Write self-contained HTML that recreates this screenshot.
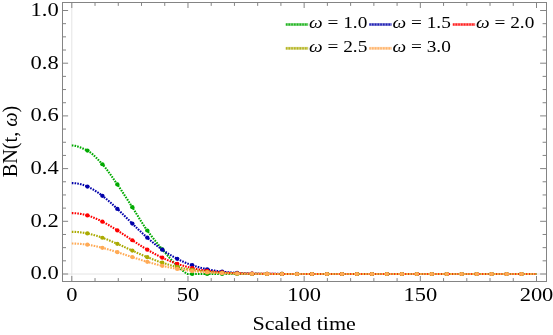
<!DOCTYPE html>
<html><head><meta charset="utf-8"><title>plot</title>
<style>html,body{margin:0;padding:0;background:#fff;}svg{display:block;will-change:transform;}</style>
</head><body>
<svg width="553" height="335" viewBox="0 0 553 335">
<rect width="553" height="335" fill="#fff"/>
<line x1="71.8" y1="2.5" x2="71.8" y2="281.5" stroke="#e4e4e4" stroke-width="1"/>
<line x1="62.5" y1="274.0" x2="546.5" y2="274.0" stroke="#e4e4e4" stroke-width="1"/>
<path d="M71.80,145.41 L72.38,145.44 L72.96,145.50 L73.54,145.56 L74.12,145.65 L74.70,145.75 L75.29,145.86 L75.87,145.99 L76.45,146.14 L77.03,146.30 L77.61,146.47 L78.19,146.65 L78.77,146.84 L79.35,147.04 L79.93,147.26 L80.51,147.48 L81.09,147.71 L81.67,147.95 L82.26,148.19 L82.84,148.44 L83.42,148.70 L84.00,148.96 L84.58,149.23 L85.16,149.49 L85.74,149.77 L86.32,150.04 L86.90,150.32 L87.48,150.61 L88.06,150.94 L88.65,151.29 L89.23,151.66 L89.81,152.06 L90.39,152.48 L90.97,152.93 L91.55,153.39 L92.13,153.88 L92.71,154.38 L93.29,154.90 L93.87,155.43 L94.45,155.98 L95.03,156.54 L95.62,157.12 L96.20,157.70 L96.78,158.29 L97.36,158.89 L97.94,159.50 L98.52,160.11 L99.10,160.73 L99.68,161.35 L100.26,161.98 L100.84,162.60 L101.42,163.22 L102.01,163.84 L102.59,164.48 L103.17,165.14 L103.75,165.81 L104.33,166.51 L104.91,167.22 L105.49,167.94 L106.07,168.68 L106.65,169.43 L107.23,170.19 L107.81,170.97 L108.40,171.75 L108.98,172.55 L109.56,173.35 L110.14,174.16 L110.72,174.98 L111.30,175.80 L111.88,176.63 L112.46,177.46 L113.04,178.29 L113.62,179.13 L114.20,179.96 L114.78,180.80 L115.37,181.63 L115.95,182.46 L116.53,183.29 L117.11,184.12 L117.69,184.95 L118.27,185.79 L118.85,186.63 L119.43,187.48 L120.01,188.34 L120.59,189.20 L121.17,190.07 L121.76,190.94 L122.34,191.81 L122.92,192.69 L123.50,193.57 L124.08,194.46 L124.66,195.35 L125.24,196.24 L125.82,197.13 L126.40,198.03 L126.98,198.92 L127.56,199.82 L128.14,200.72 L128.73,201.62 L129.31,202.52 L129.89,203.41 L130.47,204.31 L131.05,205.21 L131.63,206.10 L132.21,207.00 L132.79,207.90 L133.37,208.82 L133.95,209.74 L134.53,210.66 L135.12,211.60 L135.70,212.53 L136.28,213.47 L136.86,214.41 L137.44,215.35 L138.02,216.29 L138.60,217.23 L139.18,218.17 L139.76,219.11 L140.34,220.04 L140.92,220.97 L141.50,221.89 L142.09,222.80 L142.67,223.70 L143.25,224.60 L143.83,225.49 L144.41,226.36 L144.99,227.23 L145.57,228.08 L146.15,228.91 L146.73,229.73 L147.31,230.54 L147.89,231.34 L148.48,232.14 L149.06,232.92 L149.64,233.70 L150.22,234.47 L150.80,235.24 L151.38,235.99 L151.96,236.75 L152.54,237.49 L153.12,238.23 L153.70,238.97 L154.28,239.70 L154.87,240.42 L155.45,241.15 L156.03,241.86 L156.61,242.57 L157.19,243.28 L157.77,243.99 L158.35,244.69 L158.93,245.39 L159.51,246.08 L160.09,246.78 L160.67,247.47 L161.25,248.15 L161.84,248.84 L162.42,249.53 L163.00,250.21 L163.58,250.90 L164.16,251.59 L164.74,252.27 L165.32,252.95 L165.90,253.63 L166.48,254.31 L167.06,254.98 L167.64,255.65 L168.23,256.32 L168.81,256.98 L169.39,257.64 L169.97,258.29 L170.55,258.94 L171.13,259.57 L171.71,260.21 L172.29,260.83 L172.87,261.45 L173.45,262.06 L174.03,262.66 L174.61,263.25 L175.20,263.84 L175.78,264.41 L176.36,264.97 L176.94,265.52 L177.52,266.07 L178.10,266.61 L178.68,267.14 L179.26,267.66 L179.84,268.18 L180.42,268.69 L181.00,269.19 L181.59,269.69 L182.17,270.17 L182.75,270.66 L183.33,271.13 L183.91,271.60 L184.49,272.06 L185.07,272.51 L185.65,272.96 L186.23,273.40 L186.81,273.83 L187.39,274.00 L187.98,274.00 L188.56,274.00 L189.14,274.00 L189.72,274.00 L190.30,274.00 L190.88,274.00 L191.46,274.00 L192.04,274.00 L192.62,274.00 L193.20,274.00 L193.78,274.00 L194.36,274.00 L194.95,274.00 L195.53,274.00 L196.11,274.00 L196.69,274.00 L197.27,274.00 L197.85,274.00 L198.43,274.00 L199.01,274.00 L199.59,274.00 L200.17,274.00 L200.75,274.00 L201.34,274.00 L201.92,274.00 L202.50,274.00 L203.08,274.00 L203.66,274.00 L204.24,274.00 L204.82,274.00 L205.40,274.00 L205.98,274.00 L206.56,274.00 L207.14,274.00 L207.72,274.00 L208.31,274.00 L208.89,274.00 L209.47,274.00 L210.05,274.00 L210.63,274.00 L211.21,274.00 L211.79,274.00 L212.37,274.00 L212.95,274.00 L213.53,274.00 L214.11,274.00 L214.70,274.00 L215.28,274.00 L215.86,274.00 L216.44,274.00 L217.02,274.00 L217.60,274.00 L218.18,274.00 L218.76,274.00 L219.34,274.00 L219.92,274.00 L220.50,274.00 L221.08,274.00 L221.67,274.00 L222.25,274.00 L222.83,274.00 L223.41,274.00 L223.99,274.00 L224.57,274.00 L225.15,274.00 L225.73,274.00 L226.31,274.00 L226.89,274.00 L227.47,274.00 L228.06,274.00 L228.64,274.00 L229.22,274.00 L229.80,274.00 L230.38,274.00 L230.96,274.00 L231.54,274.00 L232.12,274.00 L232.70,274.00 L233.28,274.00 L233.86,274.00 L234.44,274.00 L235.03,274.00 L235.61,274.00 L236.19,274.00 L236.77,274.00 L237.35,274.00 L237.93,274.00 L238.51,274.00 L239.09,274.00 L239.67,274.00 L240.25,274.00 L240.83,274.00 L241.42,274.00 L242.00,274.00 L242.58,274.00 L243.16,274.00 L243.74,274.00 L244.32,274.00 L244.90,274.00 L245.48,274.00 L246.06,274.00 L246.64,274.00 L247.22,274.00 L247.81,274.00 L248.39,274.00 L248.97,274.00 L249.55,274.00 L250.13,274.00 L250.71,274.00 L251.29,274.00 L251.87,274.00 L252.45,274.00 L253.03,274.00 L253.61,274.00 L254.19,274.00 L254.78,274.00 L255.36,274.00 L255.94,274.00 L256.52,274.00 L257.10,274.00 L257.68,274.00 L258.26,274.00 L258.84,274.00 L259.42,274.00 L260.00,274.00 L260.58,274.00 L261.17,274.00 L261.75,274.00 L262.33,274.00 L262.91,274.00 L263.49,274.00 L264.07,274.00 L264.65,274.00 L265.23,274.00 L265.81,274.00 L266.39,274.00 L266.97,274.00 L267.55,274.00 L268.14,274.00 L268.72,274.00 L269.30,274.00 L269.88,274.00 L270.46,274.00 L271.04,274.00 L271.62,274.00 L272.20,274.00 L272.78,274.00 L273.36,274.00 L273.94,274.00 L274.53,274.00 L275.11,274.00 L275.69,274.00 L276.27,274.00 L276.85,274.00 L277.43,274.00 L278.01,274.00 L278.59,274.00 L279.17,274.00 L279.75,274.00 L280.33,274.00 L280.92,274.00 L281.50,274.00 L282.08,274.00 L282.66,274.00 L283.24,274.00 L283.82,274.00 L284.40,274.00 L284.98,274.00 L285.56,274.00 L286.14,274.00 L286.72,274.00 L287.30,274.00 L287.89,274.00 L288.47,274.00 L289.05,274.00 L289.63,274.00 L290.21,274.00 L290.79,274.00 L291.37,274.00 L291.95,274.00 L292.53,274.00 L293.11,274.00 L293.69,274.00 L294.28,274.00 L294.86,274.00 L295.44,274.00 L296.02,274.00 L296.60,274.00 L297.18,274.00 L297.76,274.00 L298.34,274.00 L298.92,274.00 L299.50,274.00 L300.08,274.00 L300.66,274.00 L301.25,274.00 L301.83,274.00 L302.41,274.00 L302.99,274.00 L303.57,274.00 L304.15,274.00 L304.73,274.00 L305.31,274.00 L305.89,274.00 L306.47,274.00 L307.05,274.00 L307.64,274.00 L308.22,274.00 L308.80,274.00 L309.38,274.00 L309.96,274.00 L310.54,274.00 L311.12,274.00 L311.70,274.00 L312.28,274.00 L312.86,274.00 L313.44,274.00 L314.02,274.00 L314.61,274.00 L315.19,274.00 L315.77,274.00 L316.35,274.00 L316.93,274.00 L317.51,274.00 L318.09,274.00 L318.67,274.00 L319.25,274.00 L319.83,274.00 L320.41,274.00 L321.00,274.00 L321.58,274.00 L322.16,274.00 L322.74,274.00 L323.32,274.00 L323.90,274.00 L324.48,274.00 L325.06,274.00 L325.64,274.00 L326.22,274.00 L326.80,274.00 L327.38,274.00 L327.97,274.00 L328.55,274.00 L329.13,274.00 L329.71,274.00 L330.29,274.00 L330.87,274.00 L331.45,274.00 L332.03,274.00 L332.61,274.00 L333.19,274.00 L333.77,274.00 L334.36,274.00 L334.94,274.00 L335.52,274.00 L336.10,274.00 L336.68,274.00 L337.26,274.00 L337.84,274.00 L338.42,274.00 L339.00,274.00 L339.58,274.00 L340.16,274.00 L340.75,274.00 L341.33,274.00 L341.91,274.00 L342.49,274.00 L343.07,274.00 L343.65,274.00 L344.23,274.00 L344.81,274.00 L345.39,274.00 L345.97,274.00 L346.55,274.00 L347.13,274.00 L347.72,274.00 L348.30,274.00 L348.88,274.00 L349.46,274.00 L350.04,274.00 L350.62,274.00 L351.20,274.00 L351.78,274.00 L352.36,274.00 L352.94,274.00 L353.52,274.00 L354.11,274.00 L354.69,274.00 L355.27,274.00 L355.85,274.00 L356.43,274.00 L357.01,274.00 L357.59,274.00 L358.17,274.00 L358.75,274.00 L359.33,274.00 L359.91,274.00 L360.49,274.00 L361.08,274.00 L361.66,274.00 L362.24,274.00 L362.82,274.00 L363.40,274.00 L363.98,274.00 L364.56,274.00 L365.14,274.00 L365.72,274.00 L366.30,274.00 L366.88,274.00 L367.47,274.00 L368.05,274.00 L368.63,274.00 L369.21,274.00 L369.79,274.00 L370.37,274.00 L370.95,274.00 L371.53,274.00 L372.11,274.00 L372.69,274.00 L373.27,274.00 L373.86,274.00 L374.44,274.00 L375.02,274.00 L375.60,274.00 L376.18,274.00 L376.76,274.00 L377.34,274.00 L377.92,274.00 L378.50,274.00 L379.08,274.00 L379.66,274.00 L380.24,274.00 L380.83,274.00 L381.41,274.00 L381.99,274.00 L382.57,274.00 L383.15,274.00 L383.73,274.00 L384.31,274.00 L384.89,274.00 L385.47,274.00 L386.05,274.00 L386.63,274.00 L387.22,274.00 L387.80,274.00 L388.38,274.00 L388.96,274.00 L389.54,274.00 L390.12,274.00 L390.70,274.00 L391.28,274.00 L391.86,274.00 L392.44,274.00 L393.02,274.00 L393.60,274.00 L394.19,274.00 L394.77,274.00 L395.35,274.00 L395.93,274.00 L396.51,274.00 L397.09,274.00 L397.67,274.00 L398.25,274.00 L398.83,274.00 L399.41,274.00 L399.99,274.00 L400.58,274.00 L401.16,274.00 L401.74,274.00 L402.32,274.00 L402.90,274.00 L403.48,274.00 L404.06,274.00 L404.64,274.00 L405.22,274.00 L405.80,274.00 L406.38,274.00 L406.96,274.00 L407.55,274.00 L408.13,274.00 L408.71,274.00 L409.29,274.00 L409.87,274.00 L410.45,274.00 L411.03,274.00 L411.61,274.00 L412.19,274.00 L412.77,274.00 L413.35,274.00 L413.94,274.00 L414.52,274.00 L415.10,274.00 L415.68,274.00 L416.26,274.00 L416.84,274.00 L417.42,274.00 L418.00,274.00 L418.58,274.00 L419.16,274.00 L419.74,274.00 L420.33,274.00 L420.91,274.00 L421.49,274.00 L422.07,274.00 L422.65,274.00 L423.23,274.00 L423.81,274.00 L424.39,274.00 L424.97,274.00 L425.55,274.00 L426.13,274.00 L426.71,274.00 L427.30,274.00 L427.88,274.00 L428.46,274.00 L429.04,274.00 L429.62,274.00 L430.20,274.00 L430.78,274.00 L431.36,274.00 L431.94,274.00 L432.52,274.00 L433.10,274.00 L433.69,274.00 L434.27,274.00 L434.85,274.00 L435.43,274.00 L436.01,274.00 L436.59,274.00 L437.17,274.00 L437.75,274.00 L438.33,274.00 L438.91,274.00 L439.49,274.00 L440.07,274.00 L440.66,274.00 L441.24,274.00 L441.82,274.00 L442.40,274.00 L442.98,274.00 L443.56,274.00 L444.14,274.00 L444.72,274.00 L445.30,274.00 L445.88,274.00 L446.46,274.00 L447.05,274.00 L447.63,274.00 L448.21,274.00 L448.79,274.00 L449.37,274.00 L449.95,274.00 L450.53,274.00 L451.11,274.00 L451.69,274.00 L452.27,274.00 L452.85,274.00 L453.43,274.00 L454.02,274.00 L454.60,274.00 L455.18,274.00 L455.76,274.00 L456.34,274.00 L456.92,274.00 L457.50,274.00 L458.08,274.00 L458.66,274.00 L459.24,274.00 L459.82,274.00 L460.41,274.00 L460.99,274.00 L461.57,274.00 L462.15,274.00 L462.73,274.00 L463.31,274.00 L463.89,274.00 L464.47,274.00 L465.05,274.00 L465.63,274.00 L466.21,274.00 L466.80,274.00 L467.38,274.00 L467.96,274.00 L468.54,274.00 L469.12,274.00 L469.70,274.00 L470.28,274.00 L470.86,274.00 L471.44,274.00 L472.02,274.00 L472.60,274.00 L473.18,274.00 L473.77,274.00 L474.35,274.00 L474.93,274.00 L475.51,274.00 L476.09,274.00 L476.67,274.00 L477.25,274.00 L477.83,274.00 L478.41,274.00 L478.99,274.00 L479.57,274.00 L480.16,274.00 L480.74,274.00 L481.32,274.00 L481.90,274.00 L482.48,274.00 L483.06,274.00 L483.64,274.00 L484.22,274.00 L484.80,274.00 L485.38,274.00 L485.96,274.00 L486.54,274.00 L487.13,274.00 L487.71,274.00 L488.29,274.00 L488.87,274.00 L489.45,274.00 L490.03,274.00 L490.61,274.00 L491.19,274.00 L491.77,274.00 L492.35,274.00 L492.93,274.00 L493.52,274.00 L494.10,274.00 L494.68,274.00 L495.26,274.00 L495.84,274.00 L496.42,274.00 L497.00,274.00 L497.58,274.00 L498.16,274.00 L498.74,274.00 L499.32,274.00 L499.90,274.00 L500.49,274.00 L501.07,274.00 L501.65,274.00 L502.23,274.00 L502.81,274.00 L503.39,274.00 L503.97,274.00 L504.55,274.00 L505.13,274.00 L505.71,274.00 L506.29,274.00 L506.88,274.00 L507.46,274.00 L508.04,274.00 L508.62,274.00 L509.20,274.00 L509.78,274.00 L510.36,274.00 L510.94,274.00 L511.52,274.00 L512.10,274.00 L512.68,274.00 L513.26,274.00 L513.85,274.00 L514.43,274.00 L515.01,274.00 L515.59,274.00 L516.17,274.00 L516.75,274.00 L517.33,274.00 L517.91,274.00 L518.49,274.00 L519.07,274.00 L519.65,274.00 L520.24,274.00 L520.82,274.00 L521.40,274.00 L521.98,274.00 L522.56,274.00 L523.14,274.00 L523.72,274.00 L524.30,274.00 L524.88,274.00 L525.46,274.00 L526.04,274.00 L526.63,274.00 L527.21,274.00 L527.79,274.00 L528.37,274.00 L528.95,274.00 L529.53,274.00 L530.11,274.00 L530.69,274.00 L531.27,274.00 L531.85,274.00 L532.43,274.00 L533.01,274.00 L533.60,274.00 L534.18,274.00 L534.76,274.00 L535.34,274.00 L535.92,274.00 L536.50,274.00" fill="none" stroke="#00aa00" stroke-width="2.1" stroke-dasharray="1.6 1.15"/>
<ellipse cx="87.40" cy="150.57" rx="2.2" ry="2.1" fill="#00aa00"/>
<ellipse cx="102.37" cy="164.24" rx="2.2" ry="2.1" fill="#00aa00"/>
<ellipse cx="117.34" cy="184.45" rx="2.2" ry="2.1" fill="#00aa00"/>
<ellipse cx="132.31" cy="207.15" rx="2.2" ry="2.1" fill="#00aa00"/>
<ellipse cx="147.28" cy="230.49" rx="2.2" ry="2.1" fill="#00aa00"/>
<ellipse cx="162.25" cy="249.33" rx="2.2" ry="2.1" fill="#00aa00"/>
<ellipse cx="177.22" cy="265.79" rx="2.2" ry="2.1" fill="#00aa00"/>
<ellipse cx="192.19" cy="274.00" rx="2.2" ry="2.1" fill="#00aa00"/>
<ellipse cx="207.16" cy="274.00" rx="2.2" ry="2.1" fill="#00aa00"/>
<ellipse cx="222.13" cy="274.00" rx="2.2" ry="2.1" fill="#00aa00"/>
<ellipse cx="237.10" cy="274.00" rx="2.2" ry="2.1" fill="#00aa00"/>
<ellipse cx="252.07" cy="274.00" rx="2.2" ry="2.1" fill="#00aa00"/>
<ellipse cx="267.04" cy="274.00" rx="2.2" ry="2.1" fill="#00aa00"/>
<ellipse cx="282.01" cy="274.00" rx="2.2" ry="2.1" fill="#00aa00"/>
<ellipse cx="296.98" cy="274.00" rx="2.2" ry="2.1" fill="#00aa00"/>
<ellipse cx="311.95" cy="274.00" rx="2.2" ry="2.1" fill="#00aa00"/>
<ellipse cx="326.92" cy="274.00" rx="2.2" ry="2.1" fill="#00aa00"/>
<ellipse cx="341.89" cy="274.00" rx="2.2" ry="2.1" fill="#00aa00"/>
<ellipse cx="356.86" cy="274.00" rx="2.2" ry="2.1" fill="#00aa00"/>
<ellipse cx="371.83" cy="274.00" rx="2.2" ry="2.1" fill="#00aa00"/>
<ellipse cx="386.80" cy="274.00" rx="2.2" ry="2.1" fill="#00aa00"/>
<ellipse cx="401.77" cy="274.00" rx="2.2" ry="2.1" fill="#00aa00"/>
<ellipse cx="416.74" cy="274.00" rx="2.2" ry="2.1" fill="#00aa00"/>
<ellipse cx="431.71" cy="274.00" rx="2.2" ry="2.1" fill="#00aa00"/>
<ellipse cx="446.68" cy="274.00" rx="2.2" ry="2.1" fill="#00aa00"/>
<ellipse cx="461.65" cy="274.00" rx="2.2" ry="2.1" fill="#00aa00"/>
<ellipse cx="476.62" cy="274.00" rx="2.2" ry="2.1" fill="#00aa00"/>
<ellipse cx="491.59" cy="274.00" rx="2.2" ry="2.1" fill="#00aa00"/>
<ellipse cx="506.56" cy="274.00" rx="2.2" ry="2.1" fill="#00aa00"/>
<ellipse cx="521.53" cy="274.00" rx="2.2" ry="2.1" fill="#00aa00"/>
<path d="M71.80,183.09 L72.38,183.10 L72.96,183.11 L73.54,183.14 L74.12,183.17 L74.70,183.22 L75.29,183.27 L75.87,183.33 L76.45,183.41 L77.03,183.49 L77.61,183.59 L78.19,183.69 L78.77,183.80 L79.35,183.92 L79.93,184.06 L80.51,184.20 L81.09,184.35 L81.67,184.51 L82.26,184.68 L82.84,184.86 L83.42,185.05 L84.00,185.25 L84.58,185.45 L85.16,185.67 L85.74,185.89 L86.32,186.13 L86.90,186.37 L87.48,186.62 L88.06,186.88 L88.65,187.15 L89.23,187.43 L89.81,187.72 L90.39,188.01 L90.97,188.32 L91.55,188.63 L92.13,188.95 L92.71,189.28 L93.29,189.61 L93.87,189.95 L94.45,190.30 L95.03,190.66 L95.62,191.03 L96.20,191.40 L96.78,191.78 L97.36,192.17 L97.94,192.57 L98.52,192.97 L99.10,193.38 L99.68,193.79 L100.26,194.21 L100.84,194.64 L101.42,195.08 L102.01,195.52 L102.59,195.96 L103.17,196.42 L103.75,196.87 L104.33,197.34 L104.91,197.81 L105.49,198.28 L106.07,198.76 L106.65,199.25 L107.23,199.74 L107.81,200.23 L108.40,200.73 L108.98,201.24 L109.56,201.74 L110.14,202.26 L110.72,202.77 L111.30,203.29 L111.88,203.82 L112.46,204.35 L113.04,204.88 L113.62,205.41 L114.20,205.95 L114.78,206.49 L115.37,207.04 L115.95,207.58 L116.53,208.13 L117.11,208.69 L117.69,209.24 L118.27,209.80 L118.85,210.36 L119.43,210.92 L120.01,211.48 L120.59,212.05 L121.17,212.61 L121.76,213.18 L122.34,213.75 L122.92,214.32 L123.50,214.89 L124.08,215.46 L124.66,216.04 L125.24,216.61 L125.82,217.19 L126.40,217.76 L126.98,218.33 L127.56,218.91 L128.14,219.48 L128.73,220.06 L129.31,220.63 L129.89,221.21 L130.47,221.78 L131.05,222.35 L131.63,222.93 L132.21,223.50 L132.79,224.07 L133.37,224.64 L133.95,225.21 L134.53,225.77 L135.12,226.34 L135.70,226.90 L136.28,227.46 L136.86,228.02 L137.44,228.58 L138.02,229.14 L138.60,229.70 L139.18,230.25 L139.76,230.80 L140.34,231.35 L140.92,231.89 L141.50,232.44 L142.09,232.98 L142.67,233.52 L143.25,234.05 L143.83,234.58 L144.41,235.11 L144.99,235.64 L145.57,236.16 L146.15,236.68 L146.73,237.20 L147.31,237.72 L147.89,238.23 L148.48,238.74 L149.06,239.24 L149.64,239.74 L150.22,240.24 L150.80,240.73 L151.38,241.22 L151.96,241.71 L152.54,242.19 L153.12,242.67 L153.70,243.14 L154.28,243.61 L154.87,244.08 L155.45,244.54 L156.03,245.00 L156.61,245.46 L157.19,245.91 L157.77,246.36 L158.35,246.80 L158.93,247.24 L159.51,247.67 L160.09,248.10 L160.67,248.53 L161.25,248.95 L161.84,249.37 L162.42,249.78 L163.00,250.19 L163.58,250.59 L164.16,250.99 L164.74,251.39 L165.32,251.78 L165.90,252.16 L166.48,252.55 L167.06,252.92 L167.64,253.30 L168.23,253.67 L168.81,254.03 L169.39,254.39 L169.97,254.75 L170.55,255.10 L171.13,255.45 L171.71,255.79 L172.29,256.13 L172.87,256.46 L173.45,256.79 L174.03,257.12 L174.61,257.44 L175.20,257.75 L175.78,258.07 L176.36,258.37 L176.94,258.68 L177.52,258.98 L178.10,259.27 L178.68,259.56 L179.26,259.85 L179.84,260.13 L180.42,260.41 L181.00,260.68 L181.59,260.95 L182.17,261.22 L182.75,261.48 L183.33,261.74 L183.91,261.99 L184.49,262.24 L185.07,262.49 L185.65,262.73 L186.23,262.97 L186.81,263.20 L187.39,263.43 L187.98,263.66 L188.56,263.88 L189.14,264.10 L189.72,264.32 L190.30,264.53 L190.88,264.74 L191.46,264.94 L192.04,265.14 L192.62,265.34 L193.20,265.54 L193.78,265.73 L194.36,265.91 L194.95,266.10 L195.53,266.28 L196.11,266.45 L196.69,266.63 L197.27,266.80 L197.85,266.97 L198.43,267.13 L199.01,267.29 L199.59,267.45 L200.17,267.61 L200.75,267.76 L201.34,267.91 L201.92,268.05 L202.50,268.20 L203.08,268.34 L203.66,268.47 L204.24,268.61 L204.82,268.74 L205.40,268.87 L205.98,269.00 L206.56,269.12 L207.14,269.24 L207.72,269.36 L208.31,269.48 L208.89,269.59 L209.47,269.71 L210.05,269.82 L210.63,269.92 L211.21,270.03 L211.79,270.13 L212.37,270.23 L212.95,270.33 L213.53,270.42 L214.11,270.52 L214.70,270.61 L215.28,270.70 L215.86,270.79 L216.44,270.87 L217.02,270.96 L217.60,271.04 L218.18,271.12 L218.76,271.20 L219.34,271.27 L219.92,271.35 L220.50,271.42 L221.08,271.49 L221.67,271.56 L222.25,271.63 L222.83,271.69 L223.41,271.76 L223.99,271.82 L224.57,271.88 L225.15,271.94 L225.73,272.00 L226.31,272.06 L226.89,272.11 L227.47,272.17 L228.06,272.22 L228.64,272.27 L229.22,272.32 L229.80,272.37 L230.38,272.42 L230.96,272.46 L231.54,272.51 L232.12,272.55 L232.70,272.60 L233.28,272.64 L233.86,272.68 L234.44,272.72 L235.03,272.76 L235.61,272.79 L236.19,272.83 L236.77,272.87 L237.35,272.90 L237.93,272.93 L238.51,272.97 L239.09,273.00 L239.67,273.03 L240.25,273.06 L240.83,273.09 L241.42,273.12 L242.00,273.14 L242.58,273.17 L243.16,273.20 L243.74,273.22 L244.32,273.25 L244.90,273.27 L245.48,273.29 L246.06,273.32 L246.64,273.34 L247.22,273.36 L247.81,273.38 L248.39,273.40 L248.97,273.42 L249.55,273.44 L250.13,273.46 L250.71,273.48 L251.29,273.49 L251.87,273.51 L252.45,273.53 L253.03,273.54 L253.61,273.56 L254.19,273.57 L254.78,273.59 L255.36,273.60 L255.94,273.61 L256.52,273.63 L257.10,273.64 L257.68,273.65 L258.26,273.66 L258.84,273.68 L259.42,273.69 L260.00,273.70 L260.58,273.71 L261.17,273.72 L261.75,273.73 L262.33,273.74 L262.91,273.75 L263.49,273.76 L264.07,273.76 L264.65,273.77 L265.23,273.78 L265.81,273.79 L266.39,273.80 L266.97,273.80 L267.55,273.81 L268.14,273.82 L268.72,273.82 L269.30,273.83 L269.88,273.84 L270.46,273.84 L271.04,273.85 L271.62,273.85 L272.20,273.86 L272.78,273.86 L273.36,273.87 L273.94,273.87 L274.53,273.88 L275.11,273.88 L275.69,273.89 L276.27,273.89 L276.85,273.90 L277.43,273.90 L278.01,273.90 L278.59,273.91 L279.17,273.91 L279.75,273.91 L280.33,273.92 L280.92,273.92 L281.50,273.92 L282.08,273.93 L282.66,273.93 L283.24,273.93 L283.82,273.93 L284.40,273.94 L284.98,273.94 L285.56,273.94 L286.14,273.94 L286.72,273.95 L287.30,273.95 L287.89,273.95 L288.47,273.95 L289.05,273.95 L289.63,273.96 L290.21,273.96 L290.79,273.96 L291.37,273.96 L291.95,273.96 L292.53,273.96 L293.11,273.97 L293.69,273.97 L294.28,273.97 L294.86,273.97 L295.44,273.97 L296.02,273.97 L296.60,273.97 L297.18,273.97 L297.76,273.98 L298.34,273.98 L298.92,273.98 L299.50,273.98 L300.08,273.98 L300.66,273.98 L301.25,273.98 L301.83,273.98 L302.41,273.98 L302.99,273.98 L303.57,273.98 L304.15,273.98 L304.73,273.99 L305.31,273.99 L305.89,273.99 L306.47,273.99 L307.05,273.99 L307.64,273.99 L308.22,273.99 L308.80,273.99 L309.38,273.99 L309.96,273.99 L310.54,273.99 L311.12,273.99 L311.70,273.99 L312.28,273.99 L312.86,273.99 L313.44,273.99 L314.02,273.99 L314.61,273.99 L315.19,273.99 L315.77,273.99 L316.35,273.99 L316.93,273.99 L317.51,273.99 L318.09,273.99 L318.67,274.00 L319.25,274.00 L319.83,274.00 L320.41,274.00 L321.00,274.00 L321.58,274.00 L322.16,274.00 L322.74,274.00 L323.32,274.00 L323.90,274.00 L324.48,274.00 L325.06,274.00 L325.64,274.00 L326.22,274.00 L326.80,274.00 L327.38,274.00 L327.97,274.00 L328.55,274.00 L329.13,274.00 L329.71,274.00 L330.29,274.00 L330.87,274.00 L331.45,274.00 L332.03,274.00 L332.61,274.00 L333.19,274.00 L333.77,274.00 L334.36,274.00 L334.94,274.00 L335.52,274.00 L336.10,274.00 L336.68,274.00 L337.26,274.00 L337.84,274.00 L338.42,274.00 L339.00,274.00 L339.58,274.00 L340.16,274.00 L340.75,274.00 L341.33,274.00 L341.91,274.00 L342.49,274.00 L343.07,274.00 L343.65,274.00 L344.23,274.00 L344.81,274.00 L345.39,274.00 L345.97,274.00 L346.55,274.00 L347.13,274.00 L347.72,274.00 L348.30,274.00 L348.88,274.00 L349.46,274.00 L350.04,274.00 L350.62,274.00 L351.20,274.00 L351.78,274.00 L352.36,274.00 L352.94,274.00 L353.52,274.00 L354.11,274.00 L354.69,274.00 L355.27,274.00 L355.85,274.00 L356.43,274.00 L357.01,274.00 L357.59,274.00 L358.17,274.00 L358.75,274.00 L359.33,274.00 L359.91,274.00 L360.49,274.00 L361.08,274.00 L361.66,274.00 L362.24,274.00 L362.82,274.00 L363.40,274.00 L363.98,274.00 L364.56,274.00 L365.14,274.00 L365.72,274.00 L366.30,274.00 L366.88,274.00 L367.47,274.00 L368.05,274.00 L368.63,274.00 L369.21,274.00 L369.79,274.00 L370.37,274.00 L370.95,274.00 L371.53,274.00 L372.11,274.00 L372.69,274.00 L373.27,274.00 L373.86,274.00 L374.44,274.00 L375.02,274.00 L375.60,274.00 L376.18,274.00 L376.76,274.00 L377.34,274.00 L377.92,274.00 L378.50,274.00 L379.08,274.00 L379.66,274.00 L380.24,274.00 L380.83,274.00 L381.41,274.00 L381.99,274.00 L382.57,274.00 L383.15,274.00 L383.73,274.00 L384.31,274.00 L384.89,274.00 L385.47,274.00 L386.05,274.00 L386.63,274.00 L387.22,274.00 L387.80,274.00 L388.38,274.00 L388.96,274.00 L389.54,274.00 L390.12,274.00 L390.70,274.00 L391.28,274.00 L391.86,274.00 L392.44,274.00 L393.02,274.00 L393.60,274.00 L394.19,274.00 L394.77,274.00 L395.35,274.00 L395.93,274.00 L396.51,274.00 L397.09,274.00 L397.67,274.00 L398.25,274.00 L398.83,274.00 L399.41,274.00 L399.99,274.00 L400.58,274.00 L401.16,274.00 L401.74,274.00 L402.32,274.00 L402.90,274.00 L403.48,274.00 L404.06,274.00 L404.64,274.00 L405.22,274.00 L405.80,274.00 L406.38,274.00 L406.96,274.00 L407.55,274.00 L408.13,274.00 L408.71,274.00 L409.29,274.00 L409.87,274.00 L410.45,274.00 L411.03,274.00 L411.61,274.00 L412.19,274.00 L412.77,274.00 L413.35,274.00 L413.94,274.00 L414.52,274.00 L415.10,274.00 L415.68,274.00 L416.26,274.00 L416.84,274.00 L417.42,274.00 L418.00,274.00 L418.58,274.00 L419.16,274.00 L419.74,274.00 L420.33,274.00 L420.91,274.00 L421.49,274.00 L422.07,274.00 L422.65,274.00 L423.23,274.00 L423.81,274.00 L424.39,274.00 L424.97,274.00 L425.55,274.00 L426.13,274.00 L426.71,274.00 L427.30,274.00 L427.88,274.00 L428.46,274.00 L429.04,274.00 L429.62,274.00 L430.20,274.00 L430.78,274.00 L431.36,274.00 L431.94,274.00 L432.52,274.00 L433.10,274.00 L433.69,274.00 L434.27,274.00 L434.85,274.00 L435.43,274.00 L436.01,274.00 L436.59,274.00 L437.17,274.00 L437.75,274.00 L438.33,274.00 L438.91,274.00 L439.49,274.00 L440.07,274.00 L440.66,274.00 L441.24,274.00 L441.82,274.00 L442.40,274.00 L442.98,274.00 L443.56,274.00 L444.14,274.00 L444.72,274.00 L445.30,274.00 L445.88,274.00 L446.46,274.00 L447.05,274.00 L447.63,274.00 L448.21,274.00 L448.79,274.00 L449.37,274.00 L449.95,274.00 L450.53,274.00 L451.11,274.00 L451.69,274.00 L452.27,274.00 L452.85,274.00 L453.43,274.00 L454.02,274.00 L454.60,274.00 L455.18,274.00 L455.76,274.00 L456.34,274.00 L456.92,274.00 L457.50,274.00 L458.08,274.00 L458.66,274.00 L459.24,274.00 L459.82,274.00 L460.41,274.00 L460.99,274.00 L461.57,274.00 L462.15,274.00 L462.73,274.00 L463.31,274.00 L463.89,274.00 L464.47,274.00 L465.05,274.00 L465.63,274.00 L466.21,274.00 L466.80,274.00 L467.38,274.00 L467.96,274.00 L468.54,274.00 L469.12,274.00 L469.70,274.00 L470.28,274.00 L470.86,274.00 L471.44,274.00 L472.02,274.00 L472.60,274.00 L473.18,274.00 L473.77,274.00 L474.35,274.00 L474.93,274.00 L475.51,274.00 L476.09,274.00 L476.67,274.00 L477.25,274.00 L477.83,274.00 L478.41,274.00 L478.99,274.00 L479.57,274.00 L480.16,274.00 L480.74,274.00 L481.32,274.00 L481.90,274.00 L482.48,274.00 L483.06,274.00 L483.64,274.00 L484.22,274.00 L484.80,274.00 L485.38,274.00 L485.96,274.00 L486.54,274.00 L487.13,274.00 L487.71,274.00 L488.29,274.00 L488.87,274.00 L489.45,274.00 L490.03,274.00 L490.61,274.00 L491.19,274.00 L491.77,274.00 L492.35,274.00 L492.93,274.00 L493.52,274.00 L494.10,274.00 L494.68,274.00 L495.26,274.00 L495.84,274.00 L496.42,274.00 L497.00,274.00 L497.58,274.00 L498.16,274.00 L498.74,274.00 L499.32,274.00 L499.90,274.00 L500.49,274.00 L501.07,274.00 L501.65,274.00 L502.23,274.00 L502.81,274.00 L503.39,274.00 L503.97,274.00 L504.55,274.00 L505.13,274.00 L505.71,274.00 L506.29,274.00 L506.88,274.00 L507.46,274.00 L508.04,274.00 L508.62,274.00 L509.20,274.00 L509.78,274.00 L510.36,274.00 L510.94,274.00 L511.52,274.00 L512.10,274.00 L512.68,274.00 L513.26,274.00 L513.85,274.00 L514.43,274.00 L515.01,274.00 L515.59,274.00 L516.17,274.00 L516.75,274.00 L517.33,274.00 L517.91,274.00 L518.49,274.00 L519.07,274.00 L519.65,274.00 L520.24,274.00 L520.82,274.00 L521.40,274.00 L521.98,274.00 L522.56,274.00 L523.14,274.00 L523.72,274.00 L524.30,274.00 L524.88,274.00 L525.46,274.00 L526.04,274.00 L526.63,274.00 L527.21,274.00 L527.79,274.00 L528.37,274.00 L528.95,274.00 L529.53,274.00 L530.11,274.00 L530.69,274.00 L531.27,274.00 L531.85,274.00 L532.43,274.00 L533.01,274.00 L533.60,274.00 L534.18,274.00 L534.76,274.00 L535.34,274.00 L535.92,274.00 L536.50,274.00" fill="none" stroke="#0000aa" stroke-width="2.1" stroke-dasharray="1.6 1.15"/>
<ellipse cx="87.40" cy="186.59" rx="2.2" ry="2.1" fill="#0000aa"/>
<ellipse cx="102.37" cy="195.80" rx="2.2" ry="2.1" fill="#0000aa"/>
<ellipse cx="117.34" cy="208.91" rx="2.2" ry="2.1" fill="#0000aa"/>
<ellipse cx="132.31" cy="223.60" rx="2.2" ry="2.1" fill="#0000aa"/>
<ellipse cx="147.28" cy="237.69" rx="2.2" ry="2.1" fill="#0000aa"/>
<ellipse cx="162.25" cy="249.66" rx="2.2" ry="2.1" fill="#0000aa"/>
<ellipse cx="177.22" cy="258.82" rx="2.2" ry="2.1" fill="#0000aa"/>
<ellipse cx="192.19" cy="265.19" rx="2.2" ry="2.1" fill="#0000aa"/>
<ellipse cx="207.16" cy="269.25" rx="2.2" ry="2.1" fill="#0000aa"/>
<ellipse cx="222.13" cy="271.61" rx="2.2" ry="2.1" fill="#0000aa"/>
<ellipse cx="237.10" cy="272.89" rx="2.2" ry="2.1" fill="#0000aa"/>
<ellipse cx="252.07" cy="273.52" rx="2.2" ry="2.1" fill="#0000aa"/>
<ellipse cx="267.04" cy="273.80" rx="2.2" ry="2.1" fill="#0000aa"/>
<ellipse cx="282.01" cy="273.93" rx="2.2" ry="2.1" fill="#0000aa"/>
<ellipse cx="296.98" cy="273.97" rx="2.2" ry="2.1" fill="#0000aa"/>
<ellipse cx="311.95" cy="273.99" rx="2.2" ry="2.1" fill="#0000aa"/>
<ellipse cx="326.92" cy="274.00" rx="2.2" ry="2.1" fill="#0000aa"/>
<ellipse cx="341.89" cy="274.00" rx="2.2" ry="2.1" fill="#0000aa"/>
<ellipse cx="356.86" cy="274.00" rx="2.2" ry="2.1" fill="#0000aa"/>
<ellipse cx="371.83" cy="274.00" rx="2.2" ry="2.1" fill="#0000aa"/>
<ellipse cx="386.80" cy="274.00" rx="2.2" ry="2.1" fill="#0000aa"/>
<ellipse cx="401.77" cy="274.00" rx="2.2" ry="2.1" fill="#0000aa"/>
<ellipse cx="416.74" cy="274.00" rx="2.2" ry="2.1" fill="#0000aa"/>
<ellipse cx="431.71" cy="274.00" rx="2.2" ry="2.1" fill="#0000aa"/>
<ellipse cx="446.68" cy="274.00" rx="2.2" ry="2.1" fill="#0000aa"/>
<ellipse cx="461.65" cy="274.00" rx="2.2" ry="2.1" fill="#0000aa"/>
<ellipse cx="476.62" cy="274.00" rx="2.2" ry="2.1" fill="#0000aa"/>
<ellipse cx="491.59" cy="274.00" rx="2.2" ry="2.1" fill="#0000aa"/>
<ellipse cx="506.56" cy="274.00" rx="2.2" ry="2.1" fill="#0000aa"/>
<ellipse cx="521.53" cy="274.00" rx="2.2" ry="2.1" fill="#0000aa"/>
<path d="M71.80,213.13 L72.38,213.13 L72.96,213.14 L73.54,213.16 L74.12,213.18 L74.70,213.21 L75.29,213.25 L75.87,213.29 L76.45,213.34 L77.03,213.40 L77.61,213.46 L78.19,213.53 L78.77,213.61 L79.35,213.69 L79.93,213.78 L80.51,213.87 L81.09,213.97 L81.67,214.08 L82.26,214.19 L82.84,214.31 L83.42,214.44 L84.00,214.57 L84.58,214.71 L85.16,214.86 L85.74,215.01 L86.32,215.16 L86.90,215.33 L87.48,215.50 L88.06,215.67 L88.65,215.85 L89.23,216.04 L89.81,216.23 L90.39,216.43 L90.97,216.63 L91.55,216.84 L92.13,217.05 L92.71,217.27 L93.29,217.50 L93.87,217.73 L94.45,217.96 L95.03,218.20 L95.62,218.45 L96.20,218.70 L96.78,218.95 L97.36,219.21 L97.94,219.47 L98.52,219.74 L99.10,220.02 L99.68,220.30 L100.26,220.58 L100.84,220.86 L101.42,221.16 L102.01,221.45 L102.59,221.75 L103.17,222.05 L103.75,222.36 L104.33,222.67 L104.91,222.98 L105.49,223.30 L106.07,223.62 L106.65,223.95 L107.23,224.28 L107.81,224.61 L108.40,224.94 L108.98,225.28 L109.56,225.62 L110.14,225.96 L110.72,226.31 L111.30,226.66 L111.88,227.01 L112.46,227.36 L113.04,227.72 L113.62,228.08 L114.20,228.44 L114.78,228.80 L115.37,229.16 L115.95,229.53 L116.53,229.90 L117.11,230.27 L117.69,230.64 L118.27,231.01 L118.85,231.39 L119.43,231.76 L120.01,232.14 L120.59,232.52 L121.17,232.90 L121.76,233.28 L122.34,233.66 L122.92,234.04 L123.50,234.42 L124.08,234.81 L124.66,235.19 L125.24,235.57 L125.82,235.96 L126.40,236.34 L126.98,236.73 L127.56,237.11 L128.14,237.50 L128.73,237.88 L129.31,238.27 L129.89,238.65 L130.47,239.04 L131.05,239.42 L131.63,239.80 L132.21,240.19 L132.79,240.57 L133.37,240.95 L133.95,241.33 L134.53,241.71 L135.12,242.09 L135.70,242.46 L136.28,242.84 L136.86,243.22 L137.44,243.59 L138.02,243.96 L138.60,244.34 L139.18,244.71 L139.76,245.07 L140.34,245.44 L140.92,245.81 L141.50,246.17 L142.09,246.53 L142.67,246.89 L143.25,247.25 L143.83,247.61 L144.41,247.96 L144.99,248.32 L145.57,248.67 L146.15,249.01 L146.73,249.36 L147.31,249.71 L147.89,250.05 L148.48,250.39 L149.06,250.73 L149.64,251.06 L150.22,251.39 L150.80,251.72 L151.38,252.05 L151.96,252.38 L152.54,252.70 L153.12,253.02 L153.70,253.34 L154.28,253.65 L154.87,253.97 L155.45,254.28 L156.03,254.58 L156.61,254.89 L157.19,255.19 L157.77,255.49 L158.35,255.79 L158.93,256.08 L159.51,256.37 L160.09,256.66 L160.67,256.94 L161.25,257.23 L161.84,257.51 L162.42,257.78 L163.00,258.06 L163.58,258.33 L164.16,258.59 L164.74,258.86 L165.32,259.12 L165.90,259.38 L166.48,259.64 L167.06,259.89 L167.64,260.14 L168.23,260.39 L168.81,260.63 L169.39,260.87 L169.97,261.11 L170.55,261.34 L171.13,261.58 L171.71,261.81 L172.29,262.03 L172.87,262.26 L173.45,262.48 L174.03,262.70 L174.61,262.91 L175.20,263.12 L175.78,263.33 L176.36,263.54 L176.94,263.74 L177.52,263.94 L178.10,264.14 L178.68,264.33 L179.26,264.52 L179.84,264.71 L180.42,264.90 L181.00,265.08 L181.59,265.26 L182.17,265.44 L182.75,265.62 L183.33,265.79 L183.91,265.96 L184.49,266.13 L185.07,266.29 L185.65,266.45 L186.23,266.61 L186.81,266.77 L187.39,266.93 L187.98,267.08 L188.56,267.23 L189.14,267.37 L189.72,267.52 L190.30,267.66 L190.88,267.80 L191.46,267.94 L192.04,268.07 L192.62,268.20 L193.20,268.33 L193.78,268.46 L194.36,268.59 L194.95,268.71 L195.53,268.83 L196.11,268.95 L196.69,269.06 L197.27,269.18 L197.85,269.29 L198.43,269.40 L199.01,269.51 L199.59,269.61 L200.17,269.72 L200.75,269.82 L201.34,269.92 L201.92,270.02 L202.50,270.11 L203.08,270.21 L203.66,270.30 L204.24,270.39 L204.82,270.48 L205.40,270.57 L205.98,270.65 L206.56,270.73 L207.14,270.82 L207.72,270.90 L208.31,270.97 L208.89,271.05 L209.47,271.12 L210.05,271.20 L210.63,271.27 L211.21,271.34 L211.79,271.41 L212.37,271.48 L212.95,271.54 L213.53,271.61 L214.11,271.67 L214.70,271.73 L215.28,271.79 L215.86,271.85 L216.44,271.91 L217.02,271.96 L217.60,272.02 L218.18,272.07 L218.76,272.12 L219.34,272.17 L219.92,272.22 L220.50,272.27 L221.08,272.32 L221.67,272.37 L222.25,272.41 L222.83,272.46 L223.41,272.50 L223.99,272.54 L224.57,272.58 L225.15,272.62 L225.73,272.66 L226.31,272.70 L226.89,272.74 L227.47,272.77 L228.06,272.81 L228.64,272.84 L229.22,272.88 L229.80,272.91 L230.38,272.94 L230.96,272.97 L231.54,273.00 L232.12,273.03 L232.70,273.06 L233.28,273.09 L233.86,273.11 L234.44,273.14 L235.03,273.17 L235.61,273.19 L236.19,273.22 L236.77,273.24 L237.35,273.26 L237.93,273.29 L238.51,273.31 L239.09,273.33 L239.67,273.35 L240.25,273.37 L240.83,273.39 L241.42,273.41 L242.00,273.43 L242.58,273.45 L243.16,273.46 L243.74,273.48 L244.32,273.50 L244.90,273.51 L245.48,273.53 L246.06,273.54 L246.64,273.56 L247.22,273.57 L247.81,273.59 L248.39,273.60 L248.97,273.61 L249.55,273.62 L250.13,273.64 L250.71,273.65 L251.29,273.66 L251.87,273.67 L252.45,273.68 L253.03,273.69 L253.61,273.70 L254.19,273.71 L254.78,273.72 L255.36,273.73 L255.94,273.74 L256.52,273.75 L257.10,273.76 L257.68,273.77 L258.26,273.77 L258.84,273.78 L259.42,273.79 L260.00,273.80 L260.58,273.80 L261.17,273.81 L261.75,273.82 L262.33,273.82 L262.91,273.83 L263.49,273.84 L264.07,273.84 L264.65,273.85 L265.23,273.85 L265.81,273.86 L266.39,273.86 L266.97,273.87 L267.55,273.87 L268.14,273.88 L268.72,273.88 L269.30,273.89 L269.88,273.89 L270.46,273.89 L271.04,273.90 L271.62,273.90 L272.20,273.91 L272.78,273.91 L273.36,273.91 L273.94,273.92 L274.53,273.92 L275.11,273.92 L275.69,273.92 L276.27,273.93 L276.85,273.93 L277.43,273.93 L278.01,273.94 L278.59,273.94 L279.17,273.94 L279.75,273.94 L280.33,273.94 L280.92,273.95 L281.50,273.95 L282.08,273.95 L282.66,273.95 L283.24,273.95 L283.82,273.96 L284.40,273.96 L284.98,273.96 L285.56,273.96 L286.14,273.96 L286.72,273.96 L287.30,273.97 L287.89,273.97 L288.47,273.97 L289.05,273.97 L289.63,273.97 L290.21,273.97 L290.79,273.97 L291.37,273.97 L291.95,273.98 L292.53,273.98 L293.11,273.98 L293.69,273.98 L294.28,273.98 L294.86,273.98 L295.44,273.98 L296.02,273.98 L296.60,273.98 L297.18,273.98 L297.76,273.98 L298.34,273.98 L298.92,273.99 L299.50,273.99 L300.08,273.99 L300.66,273.99 L301.25,273.99 L301.83,273.99 L302.41,273.99 L302.99,273.99 L303.57,273.99 L304.15,273.99 L304.73,273.99 L305.31,273.99 L305.89,273.99 L306.47,273.99 L307.05,273.99 L307.64,273.99 L308.22,273.99 L308.80,273.99 L309.38,273.99 L309.96,273.99 L310.54,273.99 L311.12,273.99 L311.70,273.99 L312.28,273.99 L312.86,273.99 L313.44,273.99 L314.02,274.00 L314.61,274.00 L315.19,274.00 L315.77,274.00 L316.35,274.00 L316.93,274.00 L317.51,274.00 L318.09,274.00 L318.67,274.00 L319.25,274.00 L319.83,274.00 L320.41,274.00 L321.00,274.00 L321.58,274.00 L322.16,274.00 L322.74,274.00 L323.32,274.00 L323.90,274.00 L324.48,274.00 L325.06,274.00 L325.64,274.00 L326.22,274.00 L326.80,274.00 L327.38,274.00 L327.97,274.00 L328.55,274.00 L329.13,274.00 L329.71,274.00 L330.29,274.00 L330.87,274.00 L331.45,274.00 L332.03,274.00 L332.61,274.00 L333.19,274.00 L333.77,274.00 L334.36,274.00 L334.94,274.00 L335.52,274.00 L336.10,274.00 L336.68,274.00 L337.26,274.00 L337.84,274.00 L338.42,274.00 L339.00,274.00 L339.58,274.00 L340.16,274.00 L340.75,274.00 L341.33,274.00 L341.91,274.00 L342.49,274.00 L343.07,274.00 L343.65,274.00 L344.23,274.00 L344.81,274.00 L345.39,274.00 L345.97,274.00 L346.55,274.00 L347.13,274.00 L347.72,274.00 L348.30,274.00 L348.88,274.00 L349.46,274.00 L350.04,274.00 L350.62,274.00 L351.20,274.00 L351.78,274.00 L352.36,274.00 L352.94,274.00 L353.52,274.00 L354.11,274.00 L354.69,274.00 L355.27,274.00 L355.85,274.00 L356.43,274.00 L357.01,274.00 L357.59,274.00 L358.17,274.00 L358.75,274.00 L359.33,274.00 L359.91,274.00 L360.49,274.00 L361.08,274.00 L361.66,274.00 L362.24,274.00 L362.82,274.00 L363.40,274.00 L363.98,274.00 L364.56,274.00 L365.14,274.00 L365.72,274.00 L366.30,274.00 L366.88,274.00 L367.47,274.00 L368.05,274.00 L368.63,274.00 L369.21,274.00 L369.79,274.00 L370.37,274.00 L370.95,274.00 L371.53,274.00 L372.11,274.00 L372.69,274.00 L373.27,274.00 L373.86,274.00 L374.44,274.00 L375.02,274.00 L375.60,274.00 L376.18,274.00 L376.76,274.00 L377.34,274.00 L377.92,274.00 L378.50,274.00 L379.08,274.00 L379.66,274.00 L380.24,274.00 L380.83,274.00 L381.41,274.00 L381.99,274.00 L382.57,274.00 L383.15,274.00 L383.73,274.00 L384.31,274.00 L384.89,274.00 L385.47,274.00 L386.05,274.00 L386.63,274.00 L387.22,274.00 L387.80,274.00 L388.38,274.00 L388.96,274.00 L389.54,274.00 L390.12,274.00 L390.70,274.00 L391.28,274.00 L391.86,274.00 L392.44,274.00 L393.02,274.00 L393.60,274.00 L394.19,274.00 L394.77,274.00 L395.35,274.00 L395.93,274.00 L396.51,274.00 L397.09,274.00 L397.67,274.00 L398.25,274.00 L398.83,274.00 L399.41,274.00 L399.99,274.00 L400.58,274.00 L401.16,274.00 L401.74,274.00 L402.32,274.00 L402.90,274.00 L403.48,274.00 L404.06,274.00 L404.64,274.00 L405.22,274.00 L405.80,274.00 L406.38,274.00 L406.96,274.00 L407.55,274.00 L408.13,274.00 L408.71,274.00 L409.29,274.00 L409.87,274.00 L410.45,274.00 L411.03,274.00 L411.61,274.00 L412.19,274.00 L412.77,274.00 L413.35,274.00 L413.94,274.00 L414.52,274.00 L415.10,274.00 L415.68,274.00 L416.26,274.00 L416.84,274.00 L417.42,274.00 L418.00,274.00 L418.58,274.00 L419.16,274.00 L419.74,274.00 L420.33,274.00 L420.91,274.00 L421.49,274.00 L422.07,274.00 L422.65,274.00 L423.23,274.00 L423.81,274.00 L424.39,274.00 L424.97,274.00 L425.55,274.00 L426.13,274.00 L426.71,274.00 L427.30,274.00 L427.88,274.00 L428.46,274.00 L429.04,274.00 L429.62,274.00 L430.20,274.00 L430.78,274.00 L431.36,274.00 L431.94,274.00 L432.52,274.00 L433.10,274.00 L433.69,274.00 L434.27,274.00 L434.85,274.00 L435.43,274.00 L436.01,274.00 L436.59,274.00 L437.17,274.00 L437.75,274.00 L438.33,274.00 L438.91,274.00 L439.49,274.00 L440.07,274.00 L440.66,274.00 L441.24,274.00 L441.82,274.00 L442.40,274.00 L442.98,274.00 L443.56,274.00 L444.14,274.00 L444.72,274.00 L445.30,274.00 L445.88,274.00 L446.46,274.00 L447.05,274.00 L447.63,274.00 L448.21,274.00 L448.79,274.00 L449.37,274.00 L449.95,274.00 L450.53,274.00 L451.11,274.00 L451.69,274.00 L452.27,274.00 L452.85,274.00 L453.43,274.00 L454.02,274.00 L454.60,274.00 L455.18,274.00 L455.76,274.00 L456.34,274.00 L456.92,274.00 L457.50,274.00 L458.08,274.00 L458.66,274.00 L459.24,274.00 L459.82,274.00 L460.41,274.00 L460.99,274.00 L461.57,274.00 L462.15,274.00 L462.73,274.00 L463.31,274.00 L463.89,274.00 L464.47,274.00 L465.05,274.00 L465.63,274.00 L466.21,274.00 L466.80,274.00 L467.38,274.00 L467.96,274.00 L468.54,274.00 L469.12,274.00 L469.70,274.00 L470.28,274.00 L470.86,274.00 L471.44,274.00 L472.02,274.00 L472.60,274.00 L473.18,274.00 L473.77,274.00 L474.35,274.00 L474.93,274.00 L475.51,274.00 L476.09,274.00 L476.67,274.00 L477.25,274.00 L477.83,274.00 L478.41,274.00 L478.99,274.00 L479.57,274.00 L480.16,274.00 L480.74,274.00 L481.32,274.00 L481.90,274.00 L482.48,274.00 L483.06,274.00 L483.64,274.00 L484.22,274.00 L484.80,274.00 L485.38,274.00 L485.96,274.00 L486.54,274.00 L487.13,274.00 L487.71,274.00 L488.29,274.00 L488.87,274.00 L489.45,274.00 L490.03,274.00 L490.61,274.00 L491.19,274.00 L491.77,274.00 L492.35,274.00 L492.93,274.00 L493.52,274.00 L494.10,274.00 L494.68,274.00 L495.26,274.00 L495.84,274.00 L496.42,274.00 L497.00,274.00 L497.58,274.00 L498.16,274.00 L498.74,274.00 L499.32,274.00 L499.90,274.00 L500.49,274.00 L501.07,274.00 L501.65,274.00 L502.23,274.00 L502.81,274.00 L503.39,274.00 L503.97,274.00 L504.55,274.00 L505.13,274.00 L505.71,274.00 L506.29,274.00 L506.88,274.00 L507.46,274.00 L508.04,274.00 L508.62,274.00 L509.20,274.00 L509.78,274.00 L510.36,274.00 L510.94,274.00 L511.52,274.00 L512.10,274.00 L512.68,274.00 L513.26,274.00 L513.85,274.00 L514.43,274.00 L515.01,274.00 L515.59,274.00 L516.17,274.00 L516.75,274.00 L517.33,274.00 L517.91,274.00 L518.49,274.00 L519.07,274.00 L519.65,274.00 L520.24,274.00 L520.82,274.00 L521.40,274.00 L521.98,274.00 L522.56,274.00 L523.14,274.00 L523.72,274.00 L524.30,274.00 L524.88,274.00 L525.46,274.00 L526.04,274.00 L526.63,274.00 L527.21,274.00 L527.79,274.00 L528.37,274.00 L528.95,274.00 L529.53,274.00 L530.11,274.00 L530.69,274.00 L531.27,274.00 L531.85,274.00 L532.43,274.00 L533.01,274.00 L533.60,274.00 L534.18,274.00 L534.76,274.00 L535.34,274.00 L535.92,274.00 L536.50,274.00" fill="none" stroke="#ff0000" stroke-width="2.1" stroke-dasharray="1.6 1.15"/>
<ellipse cx="87.40" cy="215.47" rx="2.2" ry="2.1" fill="#ff0000"/>
<ellipse cx="102.37" cy="221.64" rx="2.2" ry="2.1" fill="#ff0000"/>
<ellipse cx="117.34" cy="230.42" rx="2.2" ry="2.1" fill="#ff0000"/>
<ellipse cx="132.31" cy="240.25" rx="2.2" ry="2.1" fill="#ff0000"/>
<ellipse cx="147.28" cy="249.69" rx="2.2" ry="2.1" fill="#ff0000"/>
<ellipse cx="162.25" cy="257.70" rx="2.2" ry="2.1" fill="#ff0000"/>
<ellipse cx="177.22" cy="263.84" rx="2.2" ry="2.1" fill="#ff0000"/>
<ellipse cx="192.19" cy="268.10" rx="2.2" ry="2.1" fill="#ff0000"/>
<ellipse cx="207.16" cy="270.82" rx="2.2" ry="2.1" fill="#ff0000"/>
<ellipse cx="222.13" cy="272.40" rx="2.2" ry="2.1" fill="#ff0000"/>
<ellipse cx="237.10" cy="273.25" rx="2.2" ry="2.1" fill="#ff0000"/>
<ellipse cx="252.07" cy="273.68" rx="2.2" ry="2.1" fill="#ff0000"/>
<ellipse cx="267.04" cy="273.87" rx="2.2" ry="2.1" fill="#ff0000"/>
<ellipse cx="282.01" cy="273.95" rx="2.2" ry="2.1" fill="#ff0000"/>
<ellipse cx="296.98" cy="273.98" rx="2.2" ry="2.1" fill="#ff0000"/>
<ellipse cx="311.95" cy="273.99" rx="2.2" ry="2.1" fill="#ff0000"/>
<ellipse cx="326.92" cy="274.00" rx="2.2" ry="2.1" fill="#ff0000"/>
<ellipse cx="341.89" cy="274.00" rx="2.2" ry="2.1" fill="#ff0000"/>
<ellipse cx="356.86" cy="274.00" rx="2.2" ry="2.1" fill="#ff0000"/>
<ellipse cx="371.83" cy="274.00" rx="2.2" ry="2.1" fill="#ff0000"/>
<ellipse cx="386.80" cy="274.00" rx="2.2" ry="2.1" fill="#ff0000"/>
<ellipse cx="401.77" cy="274.00" rx="2.2" ry="2.1" fill="#ff0000"/>
<ellipse cx="416.74" cy="274.00" rx="2.2" ry="2.1" fill="#ff0000"/>
<ellipse cx="431.71" cy="274.00" rx="2.2" ry="2.1" fill="#ff0000"/>
<ellipse cx="446.68" cy="274.00" rx="2.2" ry="2.1" fill="#ff0000"/>
<ellipse cx="461.65" cy="274.00" rx="2.2" ry="2.1" fill="#ff0000"/>
<ellipse cx="476.62" cy="274.00" rx="2.2" ry="2.1" fill="#ff0000"/>
<ellipse cx="491.59" cy="274.00" rx="2.2" ry="2.1" fill="#ff0000"/>
<ellipse cx="506.56" cy="274.00" rx="2.2" ry="2.1" fill="#ff0000"/>
<ellipse cx="521.53" cy="274.00" rx="2.2" ry="2.1" fill="#ff0000"/>
<path d="M71.80,231.84 L72.38,231.84 L72.96,231.85 L73.54,231.86 L74.12,231.88 L74.70,231.90 L75.29,231.92 L75.87,231.95 L76.45,231.99 L77.03,232.03 L77.61,232.07 L78.19,232.12 L78.77,232.17 L79.35,232.23 L79.93,232.29 L80.51,232.35 L81.09,232.42 L81.67,232.50 L82.26,232.58 L82.84,232.66 L83.42,232.75 L84.00,232.84 L84.58,232.93 L85.16,233.03 L85.74,233.14 L86.32,233.25 L86.90,233.36 L87.48,233.48 L88.06,233.60 L88.65,233.72 L89.23,233.85 L89.81,233.99 L90.39,234.12 L90.97,234.26 L91.55,234.41 L92.13,234.56 L92.71,234.71 L93.29,234.86 L93.87,235.02 L94.45,235.18 L95.03,235.35 L95.62,235.52 L96.20,235.69 L96.78,235.87 L97.36,236.05 L97.94,236.23 L98.52,236.42 L99.10,236.61 L99.68,236.80 L100.26,237.00 L100.84,237.20 L101.42,237.40 L102.01,237.60 L102.59,237.81 L103.17,238.02 L103.75,238.23 L104.33,238.45 L104.91,238.66 L105.49,238.88 L106.07,239.11 L106.65,239.33 L107.23,239.56 L107.81,239.79 L108.40,240.02 L108.98,240.25 L109.56,240.49 L110.14,240.73 L110.72,240.97 L111.30,241.21 L111.88,241.45 L112.46,241.70 L113.04,241.94 L113.62,242.19 L114.20,242.44 L114.78,242.69 L115.37,242.94 L115.95,243.20 L116.53,243.45 L117.11,243.71 L117.69,243.97 L118.27,244.23 L118.85,244.49 L119.43,244.75 L120.01,245.01 L120.59,245.27 L121.17,245.53 L121.76,245.79 L122.34,246.06 L122.92,246.32 L123.50,246.59 L124.08,246.85 L124.66,247.12 L125.24,247.39 L125.82,247.65 L126.40,247.92 L126.98,248.18 L127.56,248.45 L128.14,248.72 L128.73,248.98 L129.31,249.25 L129.89,249.52 L130.47,249.78 L131.05,250.05 L131.63,250.31 L132.21,250.58 L132.79,250.84 L133.37,251.11 L133.95,251.37 L134.53,251.63 L135.12,251.90 L135.70,252.16 L136.28,252.42 L136.86,252.68 L137.44,252.94 L138.02,253.20 L138.60,253.45 L139.18,253.71 L139.76,253.96 L140.34,254.22 L140.92,254.47 L141.50,254.72 L142.09,254.97 L142.67,255.22 L143.25,255.47 L143.83,255.72 L144.41,255.97 L144.99,256.21 L145.57,256.45 L146.15,256.69 L146.73,256.93 L147.31,257.17 L147.89,257.41 L148.48,257.65 L149.06,257.88 L149.64,258.11 L150.22,258.34 L150.80,258.57 L151.38,258.80 L151.96,259.02 L152.54,259.25 L153.12,259.47 L153.70,259.69 L154.28,259.91 L154.87,260.12 L155.45,260.34 L156.03,260.55 L156.61,260.76 L157.19,260.97 L157.77,261.18 L158.35,261.38 L158.93,261.59 L159.51,261.79 L160.09,261.99 L160.67,262.19 L161.25,262.38 L161.84,262.58 L162.42,262.77 L163.00,262.96 L163.58,263.14 L164.16,263.33 L164.74,263.51 L165.32,263.69 L165.90,263.87 L166.48,264.05 L167.06,264.23 L167.64,264.40 L168.23,264.57 L168.81,264.74 L169.39,264.91 L169.97,265.07 L170.55,265.23 L171.13,265.40 L171.71,265.55 L172.29,265.71 L172.87,265.87 L173.45,266.02 L174.03,266.17 L174.61,266.32 L175.20,266.47 L175.78,266.61 L176.36,266.75 L176.94,266.89 L177.52,267.03 L178.10,267.17 L178.68,267.30 L179.26,267.44 L179.84,267.57 L180.42,267.70 L181.00,267.82 L181.59,267.95 L182.17,268.07 L182.75,268.19 L183.33,268.31 L183.91,268.43 L184.49,268.55 L185.07,268.66 L185.65,268.77 L186.23,268.88 L186.81,268.99 L187.39,269.10 L187.98,269.21 L188.56,269.31 L189.14,269.41 L189.72,269.51 L190.30,269.61 L190.88,269.70 L191.46,269.80 L192.04,269.89 L192.62,269.98 L193.20,270.07 L193.78,270.16 L194.36,270.25 L194.95,270.33 L195.53,270.42 L196.11,270.50 L196.69,270.58 L197.27,270.66 L197.85,270.74 L198.43,270.81 L199.01,270.89 L199.59,270.96 L200.17,271.03 L200.75,271.10 L201.34,271.17 L201.92,271.24 L202.50,271.31 L203.08,271.37 L203.66,271.44 L204.24,271.50 L204.82,271.56 L205.40,271.62 L205.98,271.68 L206.56,271.74 L207.14,271.79 L207.72,271.85 L208.31,271.90 L208.89,271.96 L209.47,272.01 L210.05,272.06 L210.63,272.11 L211.21,272.16 L211.79,272.21 L212.37,272.25 L212.95,272.30 L213.53,272.34 L214.11,272.39 L214.70,272.43 L215.28,272.47 L215.86,272.51 L216.44,272.55 L217.02,272.59 L217.60,272.63 L218.18,272.66 L218.76,272.70 L219.34,272.73 L219.92,272.77 L220.50,272.80 L221.08,272.84 L221.67,272.87 L222.25,272.90 L222.83,272.93 L223.41,272.96 L223.99,272.99 L224.57,273.02 L225.15,273.05 L225.73,273.07 L226.31,273.10 L226.89,273.12 L227.47,273.15 L228.06,273.17 L228.64,273.20 L229.22,273.22 L229.80,273.24 L230.38,273.27 L230.96,273.29 L231.54,273.31 L232.12,273.33 L232.70,273.35 L233.28,273.37 L233.86,273.39 L234.44,273.41 L235.03,273.42 L235.61,273.44 L236.19,273.46 L236.77,273.47 L237.35,273.49 L237.93,273.51 L238.51,273.52 L239.09,273.54 L239.67,273.55 L240.25,273.56 L240.83,273.58 L241.42,273.59 L242.00,273.60 L242.58,273.62 L243.16,273.63 L243.74,273.64 L244.32,273.65 L244.90,273.66 L245.48,273.67 L246.06,273.68 L246.64,273.69 L247.22,273.70 L247.81,273.71 L248.39,273.72 L248.97,273.73 L249.55,273.74 L250.13,273.75 L250.71,273.76 L251.29,273.76 L251.87,273.77 L252.45,273.78 L253.03,273.79 L253.61,273.79 L254.19,273.80 L254.78,273.81 L255.36,273.81 L255.94,273.82 L256.52,273.83 L257.10,273.83 L257.68,273.84 L258.26,273.84 L258.84,273.85 L259.42,273.85 L260.00,273.86 L260.58,273.86 L261.17,273.87 L261.75,273.87 L262.33,273.88 L262.91,273.88 L263.49,273.89 L264.07,273.89 L264.65,273.89 L265.23,273.90 L265.81,273.90 L266.39,273.91 L266.97,273.91 L267.55,273.91 L268.14,273.92 L268.72,273.92 L269.30,273.92 L269.88,273.92 L270.46,273.93 L271.04,273.93 L271.62,273.93 L272.20,273.93 L272.78,273.94 L273.36,273.94 L273.94,273.94 L274.53,273.94 L275.11,273.95 L275.69,273.95 L276.27,273.95 L276.85,273.95 L277.43,273.95 L278.01,273.96 L278.59,273.96 L279.17,273.96 L279.75,273.96 L280.33,273.96 L280.92,273.96 L281.50,273.96 L282.08,273.97 L282.66,273.97 L283.24,273.97 L283.82,273.97 L284.40,273.97 L284.98,273.97 L285.56,273.97 L286.14,273.97 L286.72,273.98 L287.30,273.98 L287.89,273.98 L288.47,273.98 L289.05,273.98 L289.63,273.98 L290.21,273.98 L290.79,273.98 L291.37,273.98 L291.95,273.98 L292.53,273.98 L293.11,273.98 L293.69,273.98 L294.28,273.99 L294.86,273.99 L295.44,273.99 L296.02,273.99 L296.60,273.99 L297.18,273.99 L297.76,273.99 L298.34,273.99 L298.92,273.99 L299.50,273.99 L300.08,273.99 L300.66,273.99 L301.25,273.99 L301.83,273.99 L302.41,273.99 L302.99,273.99 L303.57,273.99 L304.15,273.99 L304.73,273.99 L305.31,273.99 L305.89,273.99 L306.47,273.99 L307.05,273.99 L307.64,273.99 L308.22,273.99 L308.80,274.00 L309.38,274.00 L309.96,274.00 L310.54,274.00 L311.12,274.00 L311.70,274.00 L312.28,274.00 L312.86,274.00 L313.44,274.00 L314.02,274.00 L314.61,274.00 L315.19,274.00 L315.77,274.00 L316.35,274.00 L316.93,274.00 L317.51,274.00 L318.09,274.00 L318.67,274.00 L319.25,274.00 L319.83,274.00 L320.41,274.00 L321.00,274.00 L321.58,274.00 L322.16,274.00 L322.74,274.00 L323.32,274.00 L323.90,274.00 L324.48,274.00 L325.06,274.00 L325.64,274.00 L326.22,274.00 L326.80,274.00 L327.38,274.00 L327.97,274.00 L328.55,274.00 L329.13,274.00 L329.71,274.00 L330.29,274.00 L330.87,274.00 L331.45,274.00 L332.03,274.00 L332.61,274.00 L333.19,274.00 L333.77,274.00 L334.36,274.00 L334.94,274.00 L335.52,274.00 L336.10,274.00 L336.68,274.00 L337.26,274.00 L337.84,274.00 L338.42,274.00 L339.00,274.00 L339.58,274.00 L340.16,274.00 L340.75,274.00 L341.33,274.00 L341.91,274.00 L342.49,274.00 L343.07,274.00 L343.65,274.00 L344.23,274.00 L344.81,274.00 L345.39,274.00 L345.97,274.00 L346.55,274.00 L347.13,274.00 L347.72,274.00 L348.30,274.00 L348.88,274.00 L349.46,274.00 L350.04,274.00 L350.62,274.00 L351.20,274.00 L351.78,274.00 L352.36,274.00 L352.94,274.00 L353.52,274.00 L354.11,274.00 L354.69,274.00 L355.27,274.00 L355.85,274.00 L356.43,274.00 L357.01,274.00 L357.59,274.00 L358.17,274.00 L358.75,274.00 L359.33,274.00 L359.91,274.00 L360.49,274.00 L361.08,274.00 L361.66,274.00 L362.24,274.00 L362.82,274.00 L363.40,274.00 L363.98,274.00 L364.56,274.00 L365.14,274.00 L365.72,274.00 L366.30,274.00 L366.88,274.00 L367.47,274.00 L368.05,274.00 L368.63,274.00 L369.21,274.00 L369.79,274.00 L370.37,274.00 L370.95,274.00 L371.53,274.00 L372.11,274.00 L372.69,274.00 L373.27,274.00 L373.86,274.00 L374.44,274.00 L375.02,274.00 L375.60,274.00 L376.18,274.00 L376.76,274.00 L377.34,274.00 L377.92,274.00 L378.50,274.00 L379.08,274.00 L379.66,274.00 L380.24,274.00 L380.83,274.00 L381.41,274.00 L381.99,274.00 L382.57,274.00 L383.15,274.00 L383.73,274.00 L384.31,274.00 L384.89,274.00 L385.47,274.00 L386.05,274.00 L386.63,274.00 L387.22,274.00 L387.80,274.00 L388.38,274.00 L388.96,274.00 L389.54,274.00 L390.12,274.00 L390.70,274.00 L391.28,274.00 L391.86,274.00 L392.44,274.00 L393.02,274.00 L393.60,274.00 L394.19,274.00 L394.77,274.00 L395.35,274.00 L395.93,274.00 L396.51,274.00 L397.09,274.00 L397.67,274.00 L398.25,274.00 L398.83,274.00 L399.41,274.00 L399.99,274.00 L400.58,274.00 L401.16,274.00 L401.74,274.00 L402.32,274.00 L402.90,274.00 L403.48,274.00 L404.06,274.00 L404.64,274.00 L405.22,274.00 L405.80,274.00 L406.38,274.00 L406.96,274.00 L407.55,274.00 L408.13,274.00 L408.71,274.00 L409.29,274.00 L409.87,274.00 L410.45,274.00 L411.03,274.00 L411.61,274.00 L412.19,274.00 L412.77,274.00 L413.35,274.00 L413.94,274.00 L414.52,274.00 L415.10,274.00 L415.68,274.00 L416.26,274.00 L416.84,274.00 L417.42,274.00 L418.00,274.00 L418.58,274.00 L419.16,274.00 L419.74,274.00 L420.33,274.00 L420.91,274.00 L421.49,274.00 L422.07,274.00 L422.65,274.00 L423.23,274.00 L423.81,274.00 L424.39,274.00 L424.97,274.00 L425.55,274.00 L426.13,274.00 L426.71,274.00 L427.30,274.00 L427.88,274.00 L428.46,274.00 L429.04,274.00 L429.62,274.00 L430.20,274.00 L430.78,274.00 L431.36,274.00 L431.94,274.00 L432.52,274.00 L433.10,274.00 L433.69,274.00 L434.27,274.00 L434.85,274.00 L435.43,274.00 L436.01,274.00 L436.59,274.00 L437.17,274.00 L437.75,274.00 L438.33,274.00 L438.91,274.00 L439.49,274.00 L440.07,274.00 L440.66,274.00 L441.24,274.00 L441.82,274.00 L442.40,274.00 L442.98,274.00 L443.56,274.00 L444.14,274.00 L444.72,274.00 L445.30,274.00 L445.88,274.00 L446.46,274.00 L447.05,274.00 L447.63,274.00 L448.21,274.00 L448.79,274.00 L449.37,274.00 L449.95,274.00 L450.53,274.00 L451.11,274.00 L451.69,274.00 L452.27,274.00 L452.85,274.00 L453.43,274.00 L454.02,274.00 L454.60,274.00 L455.18,274.00 L455.76,274.00 L456.34,274.00 L456.92,274.00 L457.50,274.00 L458.08,274.00 L458.66,274.00 L459.24,274.00 L459.82,274.00 L460.41,274.00 L460.99,274.00 L461.57,274.00 L462.15,274.00 L462.73,274.00 L463.31,274.00 L463.89,274.00 L464.47,274.00 L465.05,274.00 L465.63,274.00 L466.21,274.00 L466.80,274.00 L467.38,274.00 L467.96,274.00 L468.54,274.00 L469.12,274.00 L469.70,274.00 L470.28,274.00 L470.86,274.00 L471.44,274.00 L472.02,274.00 L472.60,274.00 L473.18,274.00 L473.77,274.00 L474.35,274.00 L474.93,274.00 L475.51,274.00 L476.09,274.00 L476.67,274.00 L477.25,274.00 L477.83,274.00 L478.41,274.00 L478.99,274.00 L479.57,274.00 L480.16,274.00 L480.74,274.00 L481.32,274.00 L481.90,274.00 L482.48,274.00 L483.06,274.00 L483.64,274.00 L484.22,274.00 L484.80,274.00 L485.38,274.00 L485.96,274.00 L486.54,274.00 L487.13,274.00 L487.71,274.00 L488.29,274.00 L488.87,274.00 L489.45,274.00 L490.03,274.00 L490.61,274.00 L491.19,274.00 L491.77,274.00 L492.35,274.00 L492.93,274.00 L493.52,274.00 L494.10,274.00 L494.68,274.00 L495.26,274.00 L495.84,274.00 L496.42,274.00 L497.00,274.00 L497.58,274.00 L498.16,274.00 L498.74,274.00 L499.32,274.00 L499.90,274.00 L500.49,274.00 L501.07,274.00 L501.65,274.00 L502.23,274.00 L502.81,274.00 L503.39,274.00 L503.97,274.00 L504.55,274.00 L505.13,274.00 L505.71,274.00 L506.29,274.00 L506.88,274.00 L507.46,274.00 L508.04,274.00 L508.62,274.00 L509.20,274.00 L509.78,274.00 L510.36,274.00 L510.94,274.00 L511.52,274.00 L512.10,274.00 L512.68,274.00 L513.26,274.00 L513.85,274.00 L514.43,274.00 L515.01,274.00 L515.59,274.00 L516.17,274.00 L516.75,274.00 L517.33,274.00 L517.91,274.00 L518.49,274.00 L519.07,274.00 L519.65,274.00 L520.24,274.00 L520.82,274.00 L521.40,274.00 L521.98,274.00 L522.56,274.00 L523.14,274.00 L523.72,274.00 L524.30,274.00 L524.88,274.00 L525.46,274.00 L526.04,274.00 L526.63,274.00 L527.21,274.00 L527.79,274.00 L528.37,274.00 L528.95,274.00 L529.53,274.00 L530.11,274.00 L530.69,274.00 L531.27,274.00 L531.85,274.00 L532.43,274.00 L533.01,274.00 L533.60,274.00 L534.18,274.00 L534.76,274.00 L535.34,274.00 L535.92,274.00 L536.50,274.00" fill="none" stroke="#aaaa00" stroke-width="2.1" stroke-dasharray="1.6 1.15"/>
<ellipse cx="87.40" cy="233.46" rx="2.2" ry="2.1" fill="#aaaa00"/>
<ellipse cx="102.37" cy="237.73" rx="2.2" ry="2.1" fill="#aaaa00"/>
<ellipse cx="117.34" cy="243.81" rx="2.2" ry="2.1" fill="#aaaa00"/>
<ellipse cx="132.31" cy="250.62" rx="2.2" ry="2.1" fill="#aaaa00"/>
<ellipse cx="147.28" cy="257.16" rx="2.2" ry="2.1" fill="#aaaa00"/>
<ellipse cx="162.25" cy="262.71" rx="2.2" ry="2.1" fill="#aaaa00"/>
<ellipse cx="177.22" cy="266.96" rx="2.2" ry="2.1" fill="#aaaa00"/>
<ellipse cx="192.19" cy="269.92" rx="2.2" ry="2.1" fill="#aaaa00"/>
<ellipse cx="207.16" cy="271.80" rx="2.2" ry="2.1" fill="#aaaa00"/>
<ellipse cx="222.13" cy="272.89" rx="2.2" ry="2.1" fill="#aaaa00"/>
<ellipse cx="237.10" cy="273.48" rx="2.2" ry="2.1" fill="#aaaa00"/>
<ellipse cx="252.07" cy="273.78" rx="2.2" ry="2.1" fill="#aaaa00"/>
<ellipse cx="267.04" cy="273.91" rx="2.2" ry="2.1" fill="#aaaa00"/>
<ellipse cx="282.01" cy="273.97" rx="2.2" ry="2.1" fill="#aaaa00"/>
<ellipse cx="296.98" cy="273.99" rx="2.2" ry="2.1" fill="#aaaa00"/>
<ellipse cx="311.95" cy="274.00" rx="2.2" ry="2.1" fill="#aaaa00"/>
<ellipse cx="326.92" cy="274.00" rx="2.2" ry="2.1" fill="#aaaa00"/>
<ellipse cx="341.89" cy="274.00" rx="2.2" ry="2.1" fill="#aaaa00"/>
<ellipse cx="356.86" cy="274.00" rx="2.2" ry="2.1" fill="#aaaa00"/>
<ellipse cx="371.83" cy="274.00" rx="2.2" ry="2.1" fill="#aaaa00"/>
<ellipse cx="386.80" cy="274.00" rx="2.2" ry="2.1" fill="#aaaa00"/>
<ellipse cx="401.77" cy="274.00" rx="2.2" ry="2.1" fill="#aaaa00"/>
<ellipse cx="416.74" cy="274.00" rx="2.2" ry="2.1" fill="#aaaa00"/>
<ellipse cx="431.71" cy="274.00" rx="2.2" ry="2.1" fill="#aaaa00"/>
<ellipse cx="446.68" cy="274.00" rx="2.2" ry="2.1" fill="#aaaa00"/>
<ellipse cx="461.65" cy="274.00" rx="2.2" ry="2.1" fill="#aaaa00"/>
<ellipse cx="476.62" cy="274.00" rx="2.2" ry="2.1" fill="#aaaa00"/>
<ellipse cx="491.59" cy="274.00" rx="2.2" ry="2.1" fill="#aaaa00"/>
<ellipse cx="506.56" cy="274.00" rx="2.2" ry="2.1" fill="#aaaa00"/>
<ellipse cx="521.53" cy="274.00" rx="2.2" ry="2.1" fill="#aaaa00"/>
<path d="M71.80,243.54 L72.38,243.54 L72.96,243.55 L73.54,243.55 L74.12,243.57 L74.70,243.58 L75.29,243.60 L75.87,243.62 L76.45,243.65 L77.03,243.67 L77.61,243.70 L78.19,243.74 L78.77,243.78 L79.35,243.82 L79.93,243.86 L80.51,243.91 L81.09,243.96 L81.67,244.01 L82.26,244.07 L82.84,244.13 L83.42,244.19 L84.00,244.26 L84.58,244.33 L85.16,244.40 L85.74,244.48 L86.32,244.56 L86.90,244.64 L87.48,244.72 L88.06,244.81 L88.65,244.90 L89.23,244.99 L89.81,245.09 L90.39,245.19 L90.97,245.29 L91.55,245.39 L92.13,245.50 L92.71,245.61 L93.29,245.72 L93.87,245.84 L94.45,245.96 L95.03,246.08 L95.62,246.20 L96.20,246.32 L96.78,246.45 L97.36,246.58 L97.94,246.71 L98.52,246.85 L99.10,246.99 L99.68,247.12 L100.26,247.27 L100.84,247.41 L101.42,247.55 L102.01,247.70 L102.59,247.85 L103.17,248.00 L103.75,248.16 L104.33,248.31 L104.91,248.47 L105.49,248.63 L106.07,248.79 L106.65,248.95 L107.23,249.12 L107.81,249.28 L108.40,249.45 L108.98,249.62 L109.56,249.79 L110.14,249.96 L110.72,250.13 L111.30,250.31 L111.88,250.48 L112.46,250.66 L113.04,250.84 L113.62,251.02 L114.20,251.20 L114.78,251.38 L115.37,251.56 L115.95,251.75 L116.53,251.93 L117.11,252.12 L117.69,252.30 L118.27,252.49 L118.85,252.68 L119.43,252.86 L120.01,253.05 L120.59,253.24 L121.17,253.43 L121.76,253.62 L122.34,253.81 L122.92,254.00 L123.50,254.19 L124.08,254.39 L124.66,254.58 L125.24,254.77 L125.82,254.96 L126.40,255.16 L126.98,255.35 L127.56,255.54 L128.14,255.73 L128.73,255.93 L129.31,256.12 L129.89,256.31 L130.47,256.50 L131.05,256.69 L131.63,256.89 L132.21,257.08 L132.79,257.27 L133.37,257.46 L133.95,257.65 L134.53,257.84 L135.12,258.03 L135.70,258.22 L136.28,258.41 L136.86,258.59 L137.44,258.78 L138.02,258.97 L138.60,259.15 L139.18,259.34 L139.76,259.52 L140.34,259.71 L140.92,259.89 L141.50,260.07 L142.09,260.25 L142.67,260.43 L143.25,260.61 L143.83,260.79 L144.41,260.97 L144.99,261.15 L145.57,261.32 L146.15,261.50 L146.73,261.67 L147.31,261.84 L147.89,262.01 L148.48,262.18 L149.06,262.35 L149.64,262.52 L150.22,262.69 L150.80,262.85 L151.38,263.02 L151.96,263.18 L152.54,263.34 L153.12,263.50 L153.70,263.66 L154.28,263.82 L154.87,263.98 L155.45,264.13 L156.03,264.28 L156.61,264.44 L157.19,264.59 L157.77,264.74 L158.35,264.89 L158.93,265.03 L159.51,265.18 L160.09,265.32 L160.67,265.46 L161.25,265.61 L161.84,265.75 L162.42,265.88 L163.00,266.02 L163.58,266.16 L164.16,266.29 L164.74,266.42 L165.32,266.55 L165.90,266.68 L166.48,266.81 L167.06,266.94 L167.64,267.06 L168.23,267.19 L168.81,267.31 L169.39,267.43 L169.97,267.55 L170.55,267.67 L171.13,267.78 L171.71,267.90 L172.29,268.01 L172.87,268.12 L173.45,268.23 L174.03,268.34 L174.61,268.45 L175.20,268.56 L175.78,268.66 L176.36,268.76 L176.94,268.87 L177.52,268.97 L178.10,269.06 L178.68,269.16 L179.26,269.26 L179.84,269.35 L180.42,269.45 L181.00,269.54 L181.59,269.63 L182.17,269.72 L182.75,269.81 L183.33,269.89 L183.91,269.98 L184.49,270.06 L185.07,270.14 L185.65,270.22 L186.23,270.30 L186.81,270.38 L187.39,270.46 L187.98,270.54 L188.56,270.61 L189.14,270.68 L189.72,270.76 L190.30,270.83 L190.88,270.90 L191.46,270.97 L192.04,271.03 L192.62,271.10 L193.20,271.16 L193.78,271.23 L194.36,271.29 L194.95,271.35 L195.53,271.41 L196.11,271.47 L196.69,271.53 L197.27,271.59 L197.85,271.64 L198.43,271.70 L199.01,271.75 L199.59,271.81 L200.17,271.86 L200.75,271.91 L201.34,271.96 L201.92,272.01 L202.50,272.06 L203.08,272.10 L203.66,272.15 L204.24,272.19 L204.82,272.24 L205.40,272.28 L205.98,272.32 L206.56,272.37 L207.14,272.41 L207.72,272.45 L208.31,272.49 L208.89,272.52 L209.47,272.56 L210.05,272.60 L210.63,272.63 L211.21,272.67 L211.79,272.70 L212.37,272.74 L212.95,272.77 L213.53,272.80 L214.11,272.83 L214.70,272.86 L215.28,272.89 L215.86,272.92 L216.44,272.95 L217.02,272.98 L217.60,273.01 L218.18,273.03 L218.76,273.06 L219.34,273.09 L219.92,273.11 L220.50,273.14 L221.08,273.16 L221.67,273.18 L222.25,273.20 L222.83,273.23 L223.41,273.25 L223.99,273.27 L224.57,273.29 L225.15,273.31 L225.73,273.33 L226.31,273.35 L226.89,273.37 L227.47,273.39 L228.06,273.40 L228.64,273.42 L229.22,273.44 L229.80,273.45 L230.38,273.47 L230.96,273.49 L231.54,273.50 L232.12,273.51 L232.70,273.53 L233.28,273.54 L233.86,273.56 L234.44,273.57 L235.03,273.58 L235.61,273.60 L236.19,273.61 L236.77,273.62 L237.35,273.63 L237.93,273.64 L238.51,273.65 L239.09,273.66 L239.67,273.67 L240.25,273.68 L240.83,273.69 L241.42,273.70 L242.00,273.71 L242.58,273.72 L243.16,273.73 L243.74,273.74 L244.32,273.75 L244.90,273.76 L245.48,273.76 L246.06,273.77 L246.64,273.78 L247.22,273.79 L247.81,273.79 L248.39,273.80 L248.97,273.81 L249.55,273.81 L250.13,273.82 L250.71,273.82 L251.29,273.83 L251.87,273.84 L252.45,273.84 L253.03,273.85 L253.61,273.85 L254.19,273.86 L254.78,273.86 L255.36,273.87 L255.94,273.87 L256.52,273.87 L257.10,273.88 L257.68,273.88 L258.26,273.89 L258.84,273.89 L259.42,273.89 L260.00,273.90 L260.58,273.90 L261.17,273.91 L261.75,273.91 L262.33,273.91 L262.91,273.92 L263.49,273.92 L264.07,273.92 L264.65,273.92 L265.23,273.93 L265.81,273.93 L266.39,273.93 L266.97,273.93 L267.55,273.94 L268.14,273.94 L268.72,273.94 L269.30,273.94 L269.88,273.95 L270.46,273.95 L271.04,273.95 L271.62,273.95 L272.20,273.95 L272.78,273.95 L273.36,273.96 L273.94,273.96 L274.53,273.96 L275.11,273.96 L275.69,273.96 L276.27,273.96 L276.85,273.97 L277.43,273.97 L278.01,273.97 L278.59,273.97 L279.17,273.97 L279.75,273.97 L280.33,273.97 L280.92,273.97 L281.50,273.97 L282.08,273.98 L282.66,273.98 L283.24,273.98 L283.82,273.98 L284.40,273.98 L284.98,273.98 L285.56,273.98 L286.14,273.98 L286.72,273.98 L287.30,273.98 L287.89,273.98 L288.47,273.98 L289.05,273.98 L289.63,273.99 L290.21,273.99 L290.79,273.99 L291.37,273.99 L291.95,273.99 L292.53,273.99 L293.11,273.99 L293.69,273.99 L294.28,273.99 L294.86,273.99 L295.44,273.99 L296.02,273.99 L296.60,273.99 L297.18,273.99 L297.76,273.99 L298.34,273.99 L298.92,273.99 L299.50,273.99 L300.08,273.99 L300.66,273.99 L301.25,273.99 L301.83,273.99 L302.41,273.99 L302.99,273.99 L303.57,273.99 L304.15,273.99 L304.73,274.00 L305.31,274.00 L305.89,274.00 L306.47,274.00 L307.05,274.00 L307.64,274.00 L308.22,274.00 L308.80,274.00 L309.38,274.00 L309.96,274.00 L310.54,274.00 L311.12,274.00 L311.70,274.00 L312.28,274.00 L312.86,274.00 L313.44,274.00 L314.02,274.00 L314.61,274.00 L315.19,274.00 L315.77,274.00 L316.35,274.00 L316.93,274.00 L317.51,274.00 L318.09,274.00 L318.67,274.00 L319.25,274.00 L319.83,274.00 L320.41,274.00 L321.00,274.00 L321.58,274.00 L322.16,274.00 L322.74,274.00 L323.32,274.00 L323.90,274.00 L324.48,274.00 L325.06,274.00 L325.64,274.00 L326.22,274.00 L326.80,274.00 L327.38,274.00 L327.97,274.00 L328.55,274.00 L329.13,274.00 L329.71,274.00 L330.29,274.00 L330.87,274.00 L331.45,274.00 L332.03,274.00 L332.61,274.00 L333.19,274.00 L333.77,274.00 L334.36,274.00 L334.94,274.00 L335.52,274.00 L336.10,274.00 L336.68,274.00 L337.26,274.00 L337.84,274.00 L338.42,274.00 L339.00,274.00 L339.58,274.00 L340.16,274.00 L340.75,274.00 L341.33,274.00 L341.91,274.00 L342.49,274.00 L343.07,274.00 L343.65,274.00 L344.23,274.00 L344.81,274.00 L345.39,274.00 L345.97,274.00 L346.55,274.00 L347.13,274.00 L347.72,274.00 L348.30,274.00 L348.88,274.00 L349.46,274.00 L350.04,274.00 L350.62,274.00 L351.20,274.00 L351.78,274.00 L352.36,274.00 L352.94,274.00 L353.52,274.00 L354.11,274.00 L354.69,274.00 L355.27,274.00 L355.85,274.00 L356.43,274.00 L357.01,274.00 L357.59,274.00 L358.17,274.00 L358.75,274.00 L359.33,274.00 L359.91,274.00 L360.49,274.00 L361.08,274.00 L361.66,274.00 L362.24,274.00 L362.82,274.00 L363.40,274.00 L363.98,274.00 L364.56,274.00 L365.14,274.00 L365.72,274.00 L366.30,274.00 L366.88,274.00 L367.47,274.00 L368.05,274.00 L368.63,274.00 L369.21,274.00 L369.79,274.00 L370.37,274.00 L370.95,274.00 L371.53,274.00 L372.11,274.00 L372.69,274.00 L373.27,274.00 L373.86,274.00 L374.44,274.00 L375.02,274.00 L375.60,274.00 L376.18,274.00 L376.76,274.00 L377.34,274.00 L377.92,274.00 L378.50,274.00 L379.08,274.00 L379.66,274.00 L380.24,274.00 L380.83,274.00 L381.41,274.00 L381.99,274.00 L382.57,274.00 L383.15,274.00 L383.73,274.00 L384.31,274.00 L384.89,274.00 L385.47,274.00 L386.05,274.00 L386.63,274.00 L387.22,274.00 L387.80,274.00 L388.38,274.00 L388.96,274.00 L389.54,274.00 L390.12,274.00 L390.70,274.00 L391.28,274.00 L391.86,274.00 L392.44,274.00 L393.02,274.00 L393.60,274.00 L394.19,274.00 L394.77,274.00 L395.35,274.00 L395.93,274.00 L396.51,274.00 L397.09,274.00 L397.67,274.00 L398.25,274.00 L398.83,274.00 L399.41,274.00 L399.99,274.00 L400.58,274.00 L401.16,274.00 L401.74,274.00 L402.32,274.00 L402.90,274.00 L403.48,274.00 L404.06,274.00 L404.64,274.00 L405.22,274.00 L405.80,274.00 L406.38,274.00 L406.96,274.00 L407.55,274.00 L408.13,274.00 L408.71,274.00 L409.29,274.00 L409.87,274.00 L410.45,274.00 L411.03,274.00 L411.61,274.00 L412.19,274.00 L412.77,274.00 L413.35,274.00 L413.94,274.00 L414.52,274.00 L415.10,274.00 L415.68,274.00 L416.26,274.00 L416.84,274.00 L417.42,274.00 L418.00,274.00 L418.58,274.00 L419.16,274.00 L419.74,274.00 L420.33,274.00 L420.91,274.00 L421.49,274.00 L422.07,274.00 L422.65,274.00 L423.23,274.00 L423.81,274.00 L424.39,274.00 L424.97,274.00 L425.55,274.00 L426.13,274.00 L426.71,274.00 L427.30,274.00 L427.88,274.00 L428.46,274.00 L429.04,274.00 L429.62,274.00 L430.20,274.00 L430.78,274.00 L431.36,274.00 L431.94,274.00 L432.52,274.00 L433.10,274.00 L433.69,274.00 L434.27,274.00 L434.85,274.00 L435.43,274.00 L436.01,274.00 L436.59,274.00 L437.17,274.00 L437.75,274.00 L438.33,274.00 L438.91,274.00 L439.49,274.00 L440.07,274.00 L440.66,274.00 L441.24,274.00 L441.82,274.00 L442.40,274.00 L442.98,274.00 L443.56,274.00 L444.14,274.00 L444.72,274.00 L445.30,274.00 L445.88,274.00 L446.46,274.00 L447.05,274.00 L447.63,274.00 L448.21,274.00 L448.79,274.00 L449.37,274.00 L449.95,274.00 L450.53,274.00 L451.11,274.00 L451.69,274.00 L452.27,274.00 L452.85,274.00 L453.43,274.00 L454.02,274.00 L454.60,274.00 L455.18,274.00 L455.76,274.00 L456.34,274.00 L456.92,274.00 L457.50,274.00 L458.08,274.00 L458.66,274.00 L459.24,274.00 L459.82,274.00 L460.41,274.00 L460.99,274.00 L461.57,274.00 L462.15,274.00 L462.73,274.00 L463.31,274.00 L463.89,274.00 L464.47,274.00 L465.05,274.00 L465.63,274.00 L466.21,274.00 L466.80,274.00 L467.38,274.00 L467.96,274.00 L468.54,274.00 L469.12,274.00 L469.70,274.00 L470.28,274.00 L470.86,274.00 L471.44,274.00 L472.02,274.00 L472.60,274.00 L473.18,274.00 L473.77,274.00 L474.35,274.00 L474.93,274.00 L475.51,274.00 L476.09,274.00 L476.67,274.00 L477.25,274.00 L477.83,274.00 L478.41,274.00 L478.99,274.00 L479.57,274.00 L480.16,274.00 L480.74,274.00 L481.32,274.00 L481.90,274.00 L482.48,274.00 L483.06,274.00 L483.64,274.00 L484.22,274.00 L484.80,274.00 L485.38,274.00 L485.96,274.00 L486.54,274.00 L487.13,274.00 L487.71,274.00 L488.29,274.00 L488.87,274.00 L489.45,274.00 L490.03,274.00 L490.61,274.00 L491.19,274.00 L491.77,274.00 L492.35,274.00 L492.93,274.00 L493.52,274.00 L494.10,274.00 L494.68,274.00 L495.26,274.00 L495.84,274.00 L496.42,274.00 L497.00,274.00 L497.58,274.00 L498.16,274.00 L498.74,274.00 L499.32,274.00 L499.90,274.00 L500.49,274.00 L501.07,274.00 L501.65,274.00 L502.23,274.00 L502.81,274.00 L503.39,274.00 L503.97,274.00 L504.55,274.00 L505.13,274.00 L505.71,274.00 L506.29,274.00 L506.88,274.00 L507.46,274.00 L508.04,274.00 L508.62,274.00 L509.20,274.00 L509.78,274.00 L510.36,274.00 L510.94,274.00 L511.52,274.00 L512.10,274.00 L512.68,274.00 L513.26,274.00 L513.85,274.00 L514.43,274.00 L515.01,274.00 L515.59,274.00 L516.17,274.00 L516.75,274.00 L517.33,274.00 L517.91,274.00 L518.49,274.00 L519.07,274.00 L519.65,274.00 L520.24,274.00 L520.82,274.00 L521.40,274.00 L521.98,274.00 L522.56,274.00 L523.14,274.00 L523.72,274.00 L524.30,274.00 L524.88,274.00 L525.46,274.00 L526.04,274.00 L526.63,274.00 L527.21,274.00 L527.79,274.00 L528.37,274.00 L528.95,274.00 L529.53,274.00 L530.11,274.00 L530.69,274.00 L531.27,274.00 L531.85,274.00 L532.43,274.00 L533.01,274.00 L533.60,274.00 L534.18,274.00 L534.76,274.00 L535.34,274.00 L535.92,274.00 L536.50,274.00" fill="none" stroke="#ffaa55" stroke-width="2.1" stroke-dasharray="1.6 1.15"/>
<ellipse cx="87.40" cy="244.71" rx="2.2" ry="2.1" fill="#ffaa55"/>
<ellipse cx="102.37" cy="247.80" rx="2.2" ry="2.1" fill="#ffaa55"/>
<ellipse cx="117.34" cy="252.19" rx="2.2" ry="2.1" fill="#ffaa55"/>
<ellipse cx="132.31" cy="257.11" rx="2.2" ry="2.1" fill="#ffaa55"/>
<ellipse cx="147.28" cy="261.83" rx="2.2" ry="2.1" fill="#ffaa55"/>
<ellipse cx="162.25" cy="265.84" rx="2.2" ry="2.1" fill="#ffaa55"/>
<ellipse cx="177.22" cy="268.91" rx="2.2" ry="2.1" fill="#ffaa55"/>
<ellipse cx="192.19" cy="271.05" rx="2.2" ry="2.1" fill="#ffaa55"/>
<ellipse cx="207.16" cy="272.41" rx="2.2" ry="2.1" fill="#ffaa55"/>
<ellipse cx="222.13" cy="273.20" rx="2.2" ry="2.1" fill="#ffaa55"/>
<ellipse cx="237.10" cy="273.63" rx="2.2" ry="2.1" fill="#ffaa55"/>
<ellipse cx="252.07" cy="273.84" rx="2.2" ry="2.1" fill="#ffaa55"/>
<ellipse cx="267.04" cy="273.93" rx="2.2" ry="2.1" fill="#ffaa55"/>
<ellipse cx="282.01" cy="273.98" rx="2.2" ry="2.1" fill="#ffaa55"/>
<ellipse cx="296.98" cy="273.99" rx="2.2" ry="2.1" fill="#ffaa55"/>
<ellipse cx="311.95" cy="274.00" rx="2.2" ry="2.1" fill="#ffaa55"/>
<ellipse cx="326.92" cy="274.00" rx="2.2" ry="2.1" fill="#ffaa55"/>
<ellipse cx="341.89" cy="274.00" rx="2.2" ry="2.1" fill="#ffaa55"/>
<ellipse cx="356.86" cy="274.00" rx="2.2" ry="2.1" fill="#ffaa55"/>
<ellipse cx="371.83" cy="274.00" rx="2.2" ry="2.1" fill="#ffaa55"/>
<ellipse cx="386.80" cy="274.00" rx="2.2" ry="2.1" fill="#ffaa55"/>
<ellipse cx="401.77" cy="274.00" rx="2.2" ry="2.1" fill="#ffaa55"/>
<ellipse cx="416.74" cy="274.00" rx="2.2" ry="2.1" fill="#ffaa55"/>
<ellipse cx="431.71" cy="274.00" rx="2.2" ry="2.1" fill="#ffaa55"/>
<ellipse cx="446.68" cy="274.00" rx="2.2" ry="2.1" fill="#ffaa55"/>
<ellipse cx="461.65" cy="274.00" rx="2.2" ry="2.1" fill="#ffaa55"/>
<ellipse cx="476.62" cy="274.00" rx="2.2" ry="2.1" fill="#ffaa55"/>
<ellipse cx="491.59" cy="274.00" rx="2.2" ry="2.1" fill="#ffaa55"/>
<ellipse cx="506.56" cy="274.00" rx="2.2" ry="2.1" fill="#ffaa55"/>
<ellipse cx="521.53" cy="274.00" rx="2.2" ry="2.1" fill="#ffaa55"/>
<rect x="62.5" y="2.5" width="484.0" height="279.0" fill="none" stroke="#848484" stroke-width="1"/>
<path d="M71.80,281.5v-5.5M71.80,2.5v5.5M95.03,281.5v-3.4M95.03,2.5v3.4M118.27,281.5v-3.4M118.27,2.5v3.4M141.50,281.5v-3.4M141.50,2.5v3.4M164.74,281.5v-3.4M164.74,2.5v3.4M187.98,281.5v-5.5M187.98,2.5v5.5M211.21,281.5v-3.4M211.21,2.5v3.4M234.44,281.5v-3.4M234.44,2.5v3.4M257.68,281.5v-3.4M257.68,2.5v3.4M280.92,281.5v-3.4M280.92,2.5v3.4M304.15,281.5v-5.5M304.15,2.5v5.5M327.38,281.5v-3.4M327.38,2.5v3.4M350.62,281.5v-3.4M350.62,2.5v3.4M373.86,281.5v-3.4M373.86,2.5v3.4M397.09,281.5v-3.4M397.09,2.5v3.4M420.33,281.5v-5.5M420.33,2.5v5.5M443.56,281.5v-3.4M443.56,2.5v3.4M466.80,281.5v-3.4M466.80,2.5v3.4M490.03,281.5v-3.4M490.03,2.5v3.4M513.26,281.5v-3.4M513.26,2.5v3.4M536.50,281.5v-5.5M536.50,2.5v5.5M62.5,274.00h5.6M546.5,274.00h-6.4M62.5,260.82h3.5M546.5,260.82h-3.9M62.5,247.65h3.5M546.5,247.65h-3.9M62.5,234.47h3.5M546.5,234.47h-3.9M62.5,221.30h5.6M546.5,221.30h-6.4M62.5,208.12h3.5M546.5,208.12h-3.9M62.5,194.95h3.5M546.5,194.95h-3.9M62.5,181.77h3.5M546.5,181.77h-3.9M62.5,168.60h5.6M546.5,168.60h-6.4M62.5,155.43h3.5M546.5,155.43h-3.9M62.5,142.25h3.5M546.5,142.25h-3.9M62.5,129.07h3.5M546.5,129.07h-3.9M62.5,115.90h5.6M546.5,115.90h-6.4M62.5,102.72h3.5M546.5,102.72h-3.9M62.5,89.55h3.5M546.5,89.55h-3.9M62.5,76.38h3.5M546.5,76.38h-3.9M62.5,63.20h5.6M546.5,63.20h-6.4M62.5,50.02h3.5M546.5,50.02h-3.9M62.5,36.85h3.5M546.5,36.85h-3.9M62.5,23.67h3.5M546.5,23.67h-3.9M62.5,10.50h5.6M546.5,10.50h-6.4" stroke="#848484" stroke-width="1" fill="none"/>
<g font-family="'Liberation Serif', serif" fill="#000">
<text transform="translate(71.8,301.0) scale(1.165,1)" font-size="19.3" text-anchor="middle" >0</text>
<text transform="translate(188.0,301.0) scale(1.165,1)" font-size="19.3" text-anchor="middle" >50</text>
<text transform="translate(304.2,301.0) scale(1.165,1)" font-size="19.3" text-anchor="middle" >100</text>
<text transform="translate(420.3,301.0) scale(1.165,1)" font-size="19.3" text-anchor="middle" >150</text>
<text transform="translate(536.5,301.0) scale(1.165,1)" font-size="19.3" text-anchor="middle" >200</text>
<text transform="translate(58.7,279.4) scale(1.15,1)" font-size="19.6" text-anchor="end" >0.0</text>
<text transform="translate(58.7,226.7) scale(1.15,1)" font-size="19.6" text-anchor="end" >0.2</text>
<text transform="translate(58.7,174.0) scale(1.15,1)" font-size="19.6" text-anchor="end" >0.4</text>
<text transform="translate(58.7,121.3) scale(1.15,1)" font-size="19.6" text-anchor="end" >0.6</text>
<text transform="translate(58.7,68.6) scale(1.15,1)" font-size="19.6" text-anchor="end" >0.8</text>
<text transform="translate(58.7,15.9) scale(1.15,1)" font-size="19.6" text-anchor="end" >1.0</text>
<text transform="translate(304.2,329.6) scale(1.225,1)" font-size="18" text-anchor="middle" >Scaled time</text>
<text transform="translate(17.1,141.5) rotate(-90) scale(1.125,1.2)" font-size="18" text-anchor="middle">BN(t, <tspan font-style="italic">ω</tspan>)</text>
<line x1="285.8" y1="24.5" x2="308.1" y2="24.5" stroke="#00aa00" stroke-width="2.8" stroke-opacity="0.5"/>
<line x1="285.8" y1="24.5" x2="308.1" y2="24.5" stroke="#00aa00" stroke-width="2.2" stroke-opacity="0.75" stroke-dasharray="1.5 1.25"/>
<text transform="translate(309.0,27.7) scale(1.11,1)" font-size="17.4"><tspan font-style="italic">ω</tspan> = 1.0</text>
<line x1="369.3" y1="24.5" x2="391.6" y2="24.5" stroke="#0000aa" stroke-width="2.8" stroke-opacity="0.5"/>
<line x1="369.3" y1="24.5" x2="391.6" y2="24.5" stroke="#0000aa" stroke-width="2.2" stroke-opacity="0.75" stroke-dasharray="1.5 1.25"/>
<text transform="translate(392.5,27.7) scale(1.11,1)" font-size="17.4"><tspan font-style="italic">ω</tspan> = 1.5</text>
<line x1="452.8" y1="24.5" x2="475.1" y2="24.5" stroke="#ff0000" stroke-width="2.8" stroke-opacity="0.5"/>
<line x1="452.8" y1="24.5" x2="475.1" y2="24.5" stroke="#ff0000" stroke-width="2.2" stroke-opacity="0.75" stroke-dasharray="1.5 1.25"/>
<text transform="translate(476.0,27.7) scale(1.11,1)" font-size="17.4"><tspan font-style="italic">ω</tspan> = 2.0</text>
<line x1="285.8" y1="48.3" x2="308.1" y2="48.3" stroke="#aaaa00" stroke-width="2.8" stroke-opacity="0.5"/>
<line x1="285.8" y1="48.3" x2="308.1" y2="48.3" stroke="#aaaa00" stroke-width="2.2" stroke-opacity="0.75" stroke-dasharray="1.5 1.25"/>
<text transform="translate(309.0,51.5) scale(1.11,1)" font-size="17.4"><tspan font-style="italic">ω</tspan> = 2.5</text>
<line x1="369.3" y1="48.3" x2="391.6" y2="48.3" stroke="#ffaa55" stroke-width="2.8" stroke-opacity="0.5"/>
<line x1="369.3" y1="48.3" x2="391.6" y2="48.3" stroke="#ffaa55" stroke-width="2.2" stroke-opacity="0.75" stroke-dasharray="1.5 1.25"/>
<text transform="translate(392.5,51.5) scale(1.11,1)" font-size="17.4"><tspan font-style="italic">ω</tspan> = 3.0</text>
</g>
</svg>
</body></html>
